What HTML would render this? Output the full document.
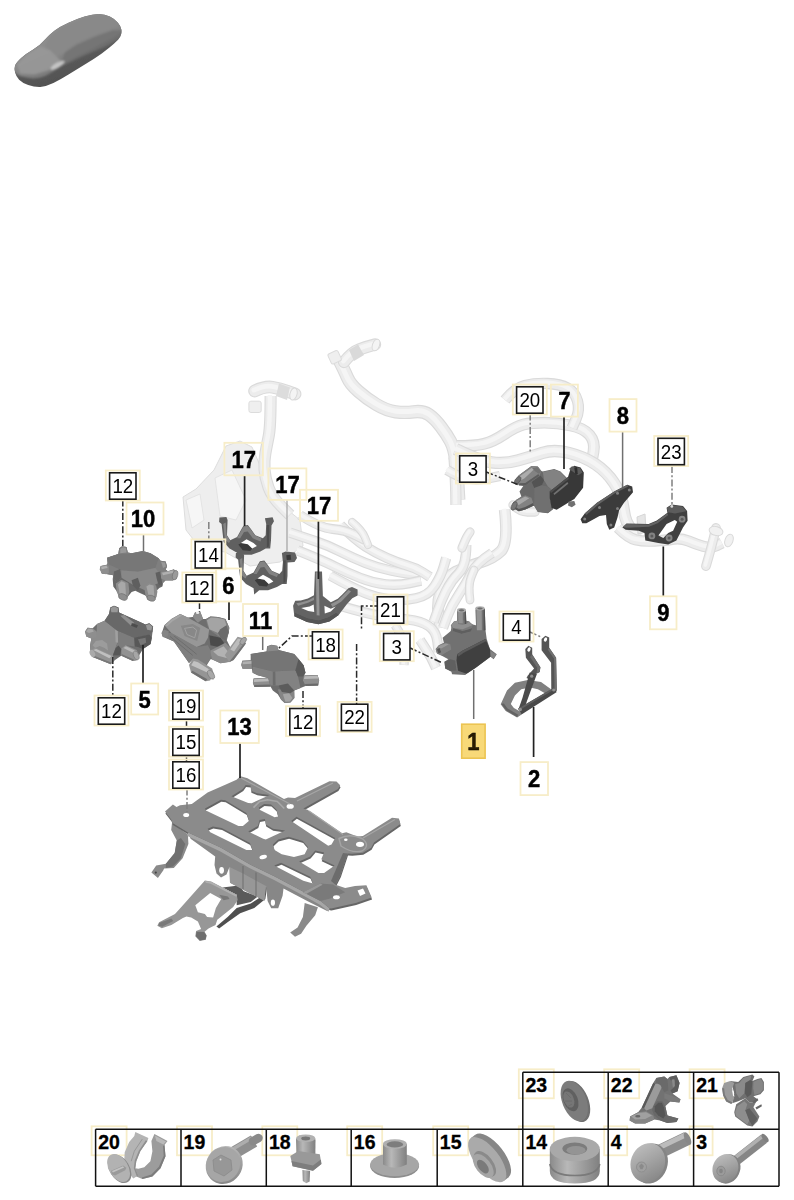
<!DOCTYPE html>
<html><head><meta charset="utf-8"><title>Parts diagram</title>
<style>
html,body{margin:0;padding:0;background:#fff;}
svg{display:block}
text{font-family:"Liberation Sans",sans-serif;fill:#000}
.b{font-weight:bold;font-size:24.5px;text-anchor:middle;stroke:#000;stroke-width:0.45px}
.r{font-size:19.5px;text-anchor:middle}
.t{font-weight:bold;font-size:19.3px;text-anchor:start;stroke:#000;stroke-width:0.3px}
.y{fill:none;stroke:#f7edc8;stroke-width:1.8}
.k{fill:#fff;stroke:#1a1a1a;stroke-width:1.6}
.ld{stroke:#222;stroke-width:1.7;fill:none}
.lg{stroke:#707070;stroke-width:1.5;fill:none}
.dd{stroke:#2a2a2a;stroke-width:1.5;fill:none;stroke-dasharray:7 2.2 2 2.2}
.dg{stroke:#808080;stroke-width:1.5;fill:none;stroke-dasharray:7 2.2 2 2.2}
</style></head>
<body>
<svg width="794" height="1200" viewBox="0 0 794 1200">
<!-- 00_defs.svg -->
<defs>
<filter id="soft" x="-5%" y="-5%" width="110%" height="110%"><feGaussianBlur stdDeviation="0.55"/></filter>
<filter id="softd" x="-5%" y="-5%" width="110%" height="110%"><feGaussianBlur stdDeviation="0.6"/><feComponentTransfer><feFuncR type="gamma" exponent="1.12"/><feFuncG type="gamma" exponent="1.12"/><feFuncB type="gamma" exponent="1.12"/></feComponentTransfer></filter>
<filter id="soft2" x="-5%" y="-5%" width="110%" height="110%"><feGaussianBlur stdDeviation="0.8"/></filter>
</defs>

<!-- 10_car.svg -->
<g id="car">
<defs><linearGradient id="cg" x1="0.1" y1="0.1" x2="0.75" y2="0.95"><stop offset="0" stop-color="#9a9a9a"/><stop offset="0.5" stop-color="#8a8a8a"/><stop offset="1" stop-color="#6a6a6a"/></linearGradient><linearGradient id="cg2" x1="0" y1="0" x2="0.4" y2="1"><stop offset="0" stop-color="#707070"/><stop offset="1" stop-color="#505050"/></linearGradient><filter id="cb" x="-10%" y="-10%" width="120%" height="120%"><feGaussianBlur stdDeviation="1.3"/></filter><clipPath id="cc"><path id="csil" d="M15.1 72.5Q14.1 68.5 15.1 65.5Q16.1 62.5 21.2 57.9Q26.2 53.4 33.2 49.4Q40.3 45.3 44.3 40.3Q48.4 35.3 54.4 30.7Q60.5 26.2 68.5 22.7Q76.6 19.1 84.6 16.6Q92.7 14.1 98.7 14.1Q104.8 14.1 109.8 16.6Q114.9 19.1 117.9 22.7Q120.9 26.2 121.4 29.7Q121.9 33.2 120.4 36.3Q118.9 39.3 113.9 43.8Q108.8 48.4 101.8 53.4Q94.7 58.4 85.6 64.0Q76.6 69.5 68.5 74.6Q60.5 79.6 53.4 83.1Q46.3 86.6 40.3 86.9Q34.3 87.1 28.2 85.0Q22.2 83.0 19.1 79.8Q16.1 76.6 15.1 72.5Z"/></clipPath></defs>
<g filter="url(#soft)"><path fill="url(#cg2)" d="M15.1 72.5Q14.1 68.5 15.1 65.5Q16.1 62.5 21.2 57.9Q26.2 53.4 33.2 49.4Q40.3 45.3 44.3 40.3Q48.4 35.3 54.4 30.7Q60.5 26.2 68.5 22.7Q76.6 19.1 84.6 16.6Q92.7 14.1 98.7 14.1Q104.8 14.1 109.8 16.6Q114.9 19.1 117.9 22.7Q120.9 26.2 121.4 29.7Q121.9 33.2 120.4 36.3Q118.9 39.3 113.9 43.8Q108.8 48.4 101.8 53.4Q94.7 58.4 85.6 64.0Q76.6 69.5 68.5 74.6Q60.5 79.6 53.4 83.1Q46.3 86.6 40.3 86.9Q34.3 87.1 28.2 85.0Q22.2 83.0 19.1 79.8Q16.1 76.6 15.1 72.5Z"/></g>
<g clip-path="url(#cc)"><g filter="url(#cb)">
<path fill="url(#cg)" d="M13.1 70.0Q12.1 67.5 13.6 64.0Q15.1 60.5 21.2 55.9Q27.2 51.4 33.8 47.4Q40.3 43.3 44.3 38.6Q48.4 33.9 54.4 29.2Q60.5 24.6 68.5 21.2Q76.6 17.7 84.6 15.1Q92.7 12.5 98.7 12.5Q104.8 12.5 110.8 15.1Q116.9 17.7 119.9 21.8Q122.9 25.8 123.1 29.0Q123.3 32.2 118.1 35.3Q112.8 38.3 106.8 41.5Q100.8 44.7 93.7 48.4Q86.6 52.0 78.6 56.0Q70.5 60.1 64.5 64.1Q58.4 68.1 51.4 72.5Q44.3 77.0 38.3 78.0Q32.2 79.0 26.2 77.6Q20.2 76.2 17.1 74.4Q14.1 72.5 13.1 70.0Z"/>
<path fill="#727272" opacity="0.85" d="M64.5 52.8L76.6 44.7L94.7 36.7L112.8 30.2L123.9 30.2L120.9 38.3L104.8 46.8L86.6 54.4L70.5 62.1L60.5 66.5Z"/>
<path fill="#898989" d="M45.3 44.7L50.4 35.3L62.5 26.2L78.6 19.3L92.7 14.5L104.8 14.5L114.9 19.3L118.9 26.2L108.8 30.2L90.7 35.9L74.6 43.3L64.5 52.8L54.4 58.4Z"/>
<path fill="#989898" opacity="0.9" d="M17.1 64.5L27.2 54.0L40.3 46.3L50.4 50.4L60.5 60.5L48.4 70.5L34.3 74.6L20.2 73.6Z"/>
<ellipse cx="57.6" cy="65.2" rx="8" ry="2.4" fill="#d6d6d6" opacity="0.8" transform="rotate(-30 57.6 65.2)"/>
</g></g>
</g>

<!-- 20_hoses.svg -->
<g id="hoses" filter="url(#soft)">
<path fill="#eeeeee" stroke="#dddddd" stroke-width="1" d="M183 497L196 489L214 470L226 446L240 441L252 447L262 470L272 497L300 520L303 546L280 562L250 566L225 552L200 548L186 530Z"/>
<path fill="#f6f6f6" stroke="#e0e0e0" stroke-width="0.8" d="M186 500L200 494L204 520L192 528ZM215 478L232 470L246 500L236 520L220 516Z"/>
<path d="M270.6 396.0Q270.6 426.7 268.7 436.1Q266.8 445.6 265.4 453.1Q264.0 460.7 264.5 469.4Q265.0 478.0 268.5 487.5Q272.0 497.0 281.0 506.0L290.0 515.0" fill="none" stroke="#dadada" stroke-width="12.1" stroke-linecap="butt" stroke-linejoin="round"/>
<path d="M270.6 396.0Q270.6 426.7 268.7 436.1Q266.8 445.6 265.4 453.1Q264.0 460.7 264.5 469.4Q265.0 478.0 268.5 487.5Q272.0 497.0 281.0 506.0L290.0 515.0" fill="none" stroke="#ececec" stroke-width="9.9" stroke-linecap="butt" stroke-linejoin="round"/>
<path d="M270.6 396.0Q270.6 426.7 268.7 436.1Q266.8 445.6 265.4 453.1Q264.0 460.7 264.5 469.4Q265.0 478.0 268.5 487.5Q272.0 497.0 281.0 506.0L290.0 515.0" fill="none" stroke="#f5f5f5" stroke-width="4.5" stroke-linecap="butt" stroke-linejoin="round" transform="translate(-0.7,-0.9)"/>
<path d="M254.6 391.0Q265.0 386.0 272.5 387.2Q280.0 388.5 287.5 391.2L295.0 394.0" fill="none" stroke="#dadada" stroke-width="12.8" stroke-linecap="round" stroke-linejoin="round"/>
<path d="M254.6 391.0Q265.0 386.0 272.5 387.2Q280.0 388.5 287.5 391.2L295.0 394.0" fill="none" stroke="#ececec" stroke-width="10.6" stroke-linecap="round" stroke-linejoin="round"/>
<path d="M254.6 391.0Q265.0 386.0 272.5 387.2Q280.0 388.5 287.5 391.2L295.0 394.0" fill="none" stroke="#f5f5f5" stroke-width="4.8" stroke-linecap="round" stroke-linejoin="round" transform="translate(-0.7,-0.9)"/>
<path d="M279 383.5L290 387.5L287 400L276 396Z" fill="#dcdcdc"/>
<rect x="248.9" y="401.2" width="12.3" height="11.3" rx="2" fill="#efefef" stroke="#dcdcdc"/>
<ellipse cx="293.5" cy="394" rx="3.5" ry="6.2" fill="#f4f4f4" stroke="#d8d8d8" transform="rotate(15 293.5 394)"/>
<path d="M338.0 358.0Q344.3 370.3 347.3 377.4Q350.3 384.4 358.4 391.4Q366.4 398.5 376.5 404.6Q386.6 410.6 395.6 411.8Q404.7 413.0 413.8 411.8Q422.8 410.6 428.9 414.6Q434.9 418.7 440.9 426.8Q447.0 434.8 450.5 441.4Q454.0 448.0 455.5 459.0Q457.0 470.0 457.9 485.0L458.8 500.0" fill="none" stroke="#dadada" stroke-width="13.3" stroke-linecap="butt" stroke-linejoin="round"/>
<path d="M338.0 358.0Q344.3 370.3 347.3 377.4Q350.3 384.4 358.4 391.4Q366.4 398.5 376.5 404.6Q386.6 410.6 395.6 411.8Q404.7 413.0 413.8 411.8Q422.8 410.6 428.9 414.6Q434.9 418.7 440.9 426.8Q447.0 434.8 450.5 441.4Q454.0 448.0 455.5 459.0Q457.0 470.0 457.9 485.0L458.8 500.0" fill="none" stroke="#ececec" stroke-width="11.1" stroke-linecap="butt" stroke-linejoin="round"/>
<path d="M338.0 358.0Q344.3 370.3 347.3 377.4Q350.3 384.4 358.4 391.4Q366.4 398.5 376.5 404.6Q386.6 410.6 395.6 411.8Q404.7 413.0 413.8 411.8Q422.8 410.6 428.9 414.6Q434.9 418.7 440.9 426.8Q447.0 434.8 450.5 441.4Q454.0 448.0 455.5 459.0Q457.0 470.0 457.9 485.0L458.8 500.0" fill="none" stroke="#f5f5f5" stroke-width="5.0" stroke-linecap="butt" stroke-linejoin="round" transform="translate(-0.7,-0.9)"/>
<path d="M344.0 362.0Q352.0 352.0 359.0 349.5Q366.0 347.0 370.5 345.8L375.0 344.5" fill="none" stroke="#dadada" stroke-width="12.3" stroke-linecap="round" stroke-linejoin="round"/>
<path d="M344.0 362.0Q352.0 352.0 359.0 349.5Q366.0 347.0 370.5 345.8L375.0 344.5" fill="none" stroke="#ececec" stroke-width="10.1" stroke-linecap="round" stroke-linejoin="round"/>
<path d="M344.0 362.0Q352.0 352.0 359.0 349.5Q366.0 347.0 370.5 345.8L375.0 344.5" fill="none" stroke="#f5f5f5" stroke-width="4.6" stroke-linecap="round" stroke-linejoin="round" transform="translate(-0.7,-0.9)"/>
<path d="M349 350L358 344.5L364 355L354 361Z" fill="#d9d9d9"/>
<rect x="329" y="352" width="11" height="11" rx="2" fill="#efefef" stroke="#dcdcdc" transform="rotate(-25 334 357)"/>
<ellipse cx="376" cy="345" rx="3.5" ry="6" fill="#f4f4f4" stroke="#d8d8d8" transform="rotate(20 376 345)"/>
<path d="M457.0 446.0Q475.0 446.0 484.1 443.8Q493.3 441.6 504.6 434.0Q516.0 426.4 523.5 424.5Q531.1 422.7 544.4 422.7Q557.6 422.7 570.8 425.5Q584.0 428.3 589.6 435.0Q595.3 441.6 593.5 451.8L591.6 462.0" fill="none" stroke="#dadada" stroke-width="11.8" stroke-linecap="butt" stroke-linejoin="round"/>
<path d="M457.0 446.0Q475.0 446.0 484.1 443.8Q493.3 441.6 504.6 434.0Q516.0 426.4 523.5 424.5Q531.1 422.7 544.4 422.7Q557.6 422.7 570.8 425.5Q584.0 428.3 589.6 435.0Q595.3 441.6 593.5 451.8L591.6 462.0" fill="none" stroke="#ececec" stroke-width="9.6" stroke-linecap="butt" stroke-linejoin="round"/>
<path d="M457.0 446.0Q475.0 446.0 484.1 443.8Q493.3 441.6 504.6 434.0Q516.0 426.4 523.5 424.5Q531.1 422.7 544.4 422.7Q557.6 422.7 570.8 425.5Q584.0 428.3 589.6 435.0Q595.3 441.6 593.5 451.8L591.6 462.0" fill="none" stroke="#f5f5f5" stroke-width="4.4" stroke-linecap="butt" stroke-linejoin="round" transform="translate(-0.7,-0.9)"/>
<path d="M505.0 400.0Q515.0 388.0 525.0 385.5Q535.0 383.0 547.5 383.5Q560.0 384.0 567.5 388.0Q575.0 392.0 577.5 401.0Q580.0 410.0 576.0 419.0L572.0 428.0" fill="none" stroke="#dadada" stroke-width="11.3" stroke-linecap="butt" stroke-linejoin="round"/>
<path d="M505.0 400.0Q515.0 388.0 525.0 385.5Q535.0 383.0 547.5 383.5Q560.0 384.0 567.5 388.0Q575.0 392.0 577.5 401.0Q580.0 410.0 576.0 419.0L572.0 428.0" fill="none" stroke="#ececec" stroke-width="9.1" stroke-linecap="butt" stroke-linejoin="round"/>
<path d="M505.0 400.0Q515.0 388.0 525.0 385.5Q535.0 383.0 547.5 383.5Q560.0 384.0 567.5 388.0Q575.0 392.0 577.5 401.0Q580.0 410.0 576.0 419.0L572.0 428.0" fill="none" stroke="#f5f5f5" stroke-width="4.2" stroke-linecap="butt" stroke-linejoin="round" transform="translate(-0.7,-0.9)"/>
<path d="M455.6 449.1Q478.2 460.4 491.4 462.3Q504.7 464.2 517.9 460.4Q531.1 456.7 542.5 452.9Q553.8 449.1 568.9 452.9Q584.0 456.7 595.4 464.2Q606.7 471.8 614.2 483.1Q621.8 494.4 623.7 509.6Q625.6 524.7 632.8 530.4L640.0 536.0" fill="none" stroke="#dadada" stroke-width="12.3" stroke-linecap="butt" stroke-linejoin="round"/>
<path d="M455.6 449.1Q478.2 460.4 491.4 462.3Q504.7 464.2 517.9 460.4Q531.1 456.7 542.5 452.9Q553.8 449.1 568.9 452.9Q584.0 456.7 595.4 464.2Q606.7 471.8 614.2 483.1Q621.8 494.4 623.7 509.6Q625.6 524.7 632.8 530.4L640.0 536.0" fill="none" stroke="#ececec" stroke-width="10.1" stroke-linecap="butt" stroke-linejoin="round"/>
<path d="M455.6 449.1Q478.2 460.4 491.4 462.3Q504.7 464.2 517.9 460.4Q531.1 456.7 542.5 452.9Q553.8 449.1 568.9 452.9Q584.0 456.7 595.4 464.2Q606.7 471.8 614.2 483.1Q621.8 494.4 623.7 509.6Q625.6 524.7 632.8 530.4L640.0 536.0" fill="none" stroke="#f5f5f5" stroke-width="4.6" stroke-linecap="butt" stroke-linejoin="round" transform="translate(-0.7,-0.9)"/>
<path d="M454.0 457.0Q455.6 480.0 455.8 492.5L456.0 505.0" fill="none" stroke="#dadada" stroke-width="11.3" stroke-linecap="butt" stroke-linejoin="round"/>
<path d="M454.0 457.0Q455.6 480.0 455.8 492.5L456.0 505.0" fill="none" stroke="#ececec" stroke-width="9.1" stroke-linecap="butt" stroke-linejoin="round"/>
<path d="M454.0 457.0Q455.6 480.0 455.8 492.5L456.0 505.0" fill="none" stroke="#f5f5f5" stroke-width="4.2" stroke-linecap="butt" stroke-linejoin="round" transform="translate(-0.7,-0.9)"/>
<path d="M504.7 509.6Q508.4 543.6 500.9 551.2Q493.3 558.7 480.1 562.5Q466.9 566.2 455.5 571.9Q444.2 577.6 440.4 590.8Q436.7 604.0 438.5 616.0L440.4 628.0" fill="none" stroke="#dadada" stroke-width="11.8" stroke-linecap="butt" stroke-linejoin="round"/>
<path d="M504.7 509.6Q508.4 543.6 500.9 551.2Q493.3 558.7 480.1 562.5Q466.9 566.2 455.5 571.9Q444.2 577.6 440.4 590.8Q436.7 604.0 438.5 616.0L440.4 628.0" fill="none" stroke="#ececec" stroke-width="9.6" stroke-linecap="butt" stroke-linejoin="round"/>
<path d="M504.7 509.6Q508.4 543.6 500.9 551.2Q493.3 558.7 480.1 562.5Q466.9 566.2 455.5 571.9Q444.2 577.6 440.4 590.8Q436.7 604.0 438.5 616.0L440.4 628.0" fill="none" stroke="#f5f5f5" stroke-width="4.4" stroke-linecap="butt" stroke-linejoin="round" transform="translate(-0.7,-0.9)"/>
<path d="M447.0 470.0Q460.0 478.0 470.0 479.0Q480.0 480.0 490.0 478.0L500.0 476.0" fill="none" stroke="#dadada" stroke-width="10.3" stroke-linecap="butt" stroke-linejoin="round"/>
<path d="M447.0 470.0Q460.0 478.0 470.0 479.0Q480.0 480.0 490.0 478.0L500.0 476.0" fill="none" stroke="#ececec" stroke-width="8.1" stroke-linecap="butt" stroke-linejoin="round"/>
<path d="M447.0 470.0Q460.0 478.0 470.0 479.0Q480.0 480.0 490.0 478.0L500.0 476.0" fill="none" stroke="#f5f5f5" stroke-width="3.8" stroke-linecap="butt" stroke-linejoin="round" transform="translate(-0.7,-0.9)"/>
<path d="M513.0 505.0Q520.0 512.0 527.5 512.0L535.0 512.0" fill="none" stroke="#dadada" stroke-width="9.3" stroke-linecap="round" stroke-linejoin="round"/>
<path d="M513.0 505.0Q520.0 512.0 527.5 512.0L535.0 512.0" fill="none" stroke="#ececec" stroke-width="7.1" stroke-linecap="round" stroke-linejoin="round"/>
<path d="M513.0 505.0Q520.0 512.0 527.5 512.0L535.0 512.0" fill="none" stroke="#f5f5f5" stroke-width="3.4" stroke-linecap="round" stroke-linejoin="round" transform="translate(-0.7,-0.9)"/>
<path d="M618.0 527.8Q628.0 537.9 635.5 539.8Q643.1 541.6 654.5 541.0Q665.8 540.4 673.3 539.1Q680.9 537.9 688.5 541.0Q696.0 544.2 703.5 546.4Q711.1 548.5 716.5 545.8L722.0 543.0" fill="none" stroke="#dadada" stroke-width="11.3" stroke-linecap="butt" stroke-linejoin="round"/>
<path d="M618.0 527.8Q628.0 537.9 635.5 539.8Q643.1 541.6 654.5 541.0Q665.8 540.4 673.3 539.1Q680.9 537.9 688.5 541.0Q696.0 544.2 703.5 546.4Q711.1 548.5 716.5 545.8L722.0 543.0" fill="none" stroke="#ececec" stroke-width="9.1" stroke-linecap="butt" stroke-linejoin="round"/>
<path d="M618.0 527.8Q628.0 537.9 635.5 539.8Q643.1 541.6 654.5 541.0Q665.8 540.4 673.3 539.1Q680.9 537.9 688.5 541.0Q696.0 544.2 703.5 546.4Q711.1 548.5 716.5 545.8L722.0 543.0" fill="none" stroke="#f5f5f5" stroke-width="4.2" stroke-linecap="butt" stroke-linejoin="round" transform="translate(-0.7,-0.9)"/>
<path d="M716.0 528.0Q712.0 545.0 709.0 555.5L706.0 566.0" fill="none" stroke="#dadada" stroke-width="9.8" stroke-linecap="round" stroke-linejoin="round"/>
<path d="M716.0 528.0Q712.0 545.0 709.0 555.5L706.0 566.0" fill="none" stroke="#ececec" stroke-width="7.6" stroke-linecap="round" stroke-linejoin="round"/>
<path d="M716.0 528.0Q712.0 545.0 709.0 555.5L706.0 566.0" fill="none" stroke="#f5f5f5" stroke-width="3.6" stroke-linecap="round" stroke-linejoin="round" transform="translate(-0.7,-0.9)"/>
<ellipse cx="716" cy="531" rx="7" ry="4.5" fill="#f1f1f1" stroke="#d9d9d9" transform="rotate(15 716 531)"/>
<ellipse cx="729" cy="540.5" rx="4" ry="6.5" fill="#f1f1f1" stroke="#d9d9d9" transform="rotate(20 729 540.5)"/>
<path fill="#e6e6e6" stroke="#d6d6d6" d="M637 517L645 514L646 532L638 534Z"/>
<path d="M290.0 532.7Q305.0 537.8 316.4 541.5Q327.8 545.3 340.4 551.6Q353.0 557.9 365.5 563.0Q378.0 568.0 390.7 570.5Q403.4 573.0 412.2 574.3L421.0 575.6" fill="none" stroke="#dadada" stroke-width="10.3" stroke-linecap="butt" stroke-linejoin="round"/>
<path d="M290.0 532.7Q305.0 537.8 316.4 541.5Q327.8 545.3 340.4 551.6Q353.0 557.9 365.5 563.0Q378.0 568.0 390.7 570.5Q403.4 573.0 412.2 574.3L421.0 575.6" fill="none" stroke="#ececec" stroke-width="8.1" stroke-linecap="butt" stroke-linejoin="round"/>
<path d="M290.0 532.7Q305.0 537.8 316.4 541.5Q327.8 545.3 340.4 551.6Q353.0 557.9 365.5 563.0Q378.0 568.0 390.7 570.5Q403.4 573.0 412.2 574.3L421.0 575.6" fill="none" stroke="#f5f5f5" stroke-width="3.8" stroke-linecap="butt" stroke-linejoin="round" transform="translate(-0.7,-0.9)"/>
<path d="M340.4 525.2Q355.5 540.3 365.6 546.6Q375.6 552.9 387.0 558.0Q398.3 563.0 407.1 565.5Q416.0 568.0 423.0 572.5L430.0 577.0" fill="none" stroke="#dadada" stroke-width="10.3" stroke-linecap="butt" stroke-linejoin="round"/>
<path d="M340.4 525.2Q355.5 540.3 365.6 546.6Q375.6 552.9 387.0 558.0Q398.3 563.0 407.1 565.5Q416.0 568.0 423.0 572.5L430.0 577.0" fill="none" stroke="#ececec" stroke-width="8.1" stroke-linecap="butt" stroke-linejoin="round"/>
<path d="M340.4 525.2Q355.5 540.3 365.6 546.6Q375.6 552.9 387.0 558.0Q398.3 563.0 407.1 565.5Q416.0 568.0 423.0 572.5L430.0 577.0" fill="none" stroke="#f5f5f5" stroke-width="3.8" stroke-linecap="butt" stroke-linejoin="round" transform="translate(-0.7,-0.9)"/>
<path d="M297.6 550.4Q322.7 560.5 335.4 566.8Q348.0 573.0 360.5 578.0Q373.0 583.0 385.6 584.3Q398.3 585.6 409.6 583.1L421.0 580.6" fill="none" stroke="#dadada" stroke-width="10.3" stroke-linecap="butt" stroke-linejoin="round"/>
<path d="M297.6 550.4Q322.7 560.5 335.4 566.8Q348.0 573.0 360.5 578.0Q373.0 583.0 385.6 584.3Q398.3 585.6 409.6 583.1L421.0 580.6" fill="none" stroke="#ececec" stroke-width="8.1" stroke-linecap="butt" stroke-linejoin="round"/>
<path d="M297.6 550.4Q322.7 560.5 335.4 566.8Q348.0 573.0 360.5 578.0Q373.0 583.0 385.6 584.3Q398.3 585.6 409.6 583.1L421.0 580.6" fill="none" stroke="#f5f5f5" stroke-width="3.8" stroke-linecap="butt" stroke-linejoin="round" transform="translate(-0.7,-0.9)"/>
<path d="M330.3 575.6Q353.0 588.2 365.6 593.2Q378.2 598.2 390.8 599.5Q403.4 600.8 415.9 598.2Q428.5 595.7 434.8 585.7Q441.1 575.6 443.6 566.8L446.2 558.0" fill="none" stroke="#dadada" stroke-width="10.3" stroke-linecap="butt" stroke-linejoin="round"/>
<path d="M330.3 575.6Q353.0 588.2 365.6 593.2Q378.2 598.2 390.8 599.5Q403.4 600.8 415.9 598.2Q428.5 595.7 434.8 585.7Q441.1 575.6 443.6 566.8L446.2 558.0" fill="none" stroke="#ececec" stroke-width="8.1" stroke-linecap="butt" stroke-linejoin="round"/>
<path d="M330.3 575.6Q353.0 588.2 365.6 593.2Q378.2 598.2 390.8 599.5Q403.4 600.8 415.9 598.2Q428.5 595.7 434.8 585.7Q441.1 575.6 443.6 566.8L446.2 558.0" fill="none" stroke="#f5f5f5" stroke-width="3.8" stroke-linecap="butt" stroke-linejoin="round" transform="translate(-0.7,-0.9)"/>
<path d="M340.4 605.8Q365.6 613.4 380.7 615.9Q395.8 618.4 408.4 619.6Q421.0 620.9 428.6 626.0Q436.1 631.0 437.4 641.5L438.6 652.0" fill="none" stroke="#dadada" stroke-width="10.3" stroke-linecap="butt" stroke-linejoin="round"/>
<path d="M340.4 605.8Q365.6 613.4 380.7 615.9Q395.8 618.4 408.4 619.6Q421.0 620.9 428.6 626.0Q436.1 631.0 437.4 641.5L438.6 652.0" fill="none" stroke="#ececec" stroke-width="8.1" stroke-linecap="butt" stroke-linejoin="round"/>
<path d="M340.4 605.8Q365.6 613.4 380.7 615.9Q395.8 618.4 408.4 619.6Q421.0 620.9 428.6 626.0Q436.1 631.0 437.4 641.5L438.6 652.0" fill="none" stroke="#f5f5f5" stroke-width="3.8" stroke-linecap="butt" stroke-linejoin="round" transform="translate(-0.7,-0.9)"/>
<path d="M466.3 545.0Q466.3 565.5 458.8 573.0Q451.2 580.6 446.1 590.7Q441.1 600.8 437.4 611.4L433.6 622.0" fill="none" stroke="#dadada" stroke-width="10.3" stroke-linecap="butt" stroke-linejoin="round"/>
<path d="M466.3 545.0Q466.3 565.5 458.8 573.0Q451.2 580.6 446.1 590.7Q441.1 600.8 437.4 611.4L433.6 622.0" fill="none" stroke="#ececec" stroke-width="8.1" stroke-linecap="butt" stroke-linejoin="round"/>
<path d="M466.3 545.0Q466.3 565.5 458.8 573.0Q451.2 580.6 446.1 590.7Q441.1 600.8 437.4 611.4L433.6 622.0" fill="none" stroke="#f5f5f5" stroke-width="3.8" stroke-linecap="butt" stroke-linejoin="round" transform="translate(-0.7,-0.9)"/>
<path d="M492.0 553.0Q476.4 563.0 471.4 573.0Q466.3 583.1 458.8 594.5Q451.2 605.8 447.1 616.9L443.0 628.0" fill="none" stroke="#dadada" stroke-width="10.3" stroke-linecap="butt" stroke-linejoin="round"/>
<path d="M492.0 553.0Q476.4 563.0 471.4 573.0Q466.3 583.1 458.8 594.5Q451.2 605.8 447.1 616.9L443.0 628.0" fill="none" stroke="#ececec" stroke-width="8.1" stroke-linecap="butt" stroke-linejoin="round"/>
<path d="M492.0 553.0Q476.4 563.0 471.4 573.0Q466.3 583.1 458.8 594.5Q451.2 605.8 447.1 616.9L443.0 628.0" fill="none" stroke="#f5f5f5" stroke-width="3.8" stroke-linecap="butt" stroke-linejoin="round" transform="translate(-0.7,-0.9)"/>
<path d="M300.0 515.0Q320.0 528.0 332.5 529.0Q345.0 530.0 355.0 535.0L365.0 540.0" fill="none" stroke="#dadada" stroke-width="9.8" stroke-linecap="butt" stroke-linejoin="round"/>
<path d="M300.0 515.0Q320.0 528.0 332.5 529.0Q345.0 530.0 355.0 535.0L365.0 540.0" fill="none" stroke="#ececec" stroke-width="7.6" stroke-linecap="butt" stroke-linejoin="round"/>
<path d="M300.0 515.0Q320.0 528.0 332.5 529.0Q345.0 530.0 355.0 535.0L365.0 540.0" fill="none" stroke="#f5f5f5" stroke-width="3.6" stroke-linecap="butt" stroke-linejoin="round" transform="translate(-0.7,-0.9)"/>
<path d="M352.0 522.0Q362.0 530.0 365.0 537.5L368.0 545.0" fill="none" stroke="#dadada" stroke-width="8.3" stroke-linecap="round" stroke-linejoin="round"/>
<path d="M352.0 522.0Q362.0 530.0 365.0 537.5L368.0 545.0" fill="none" stroke="#ececec" stroke-width="6.1" stroke-linecap="round" stroke-linejoin="round"/>
<path d="M352.0 522.0Q362.0 530.0 365.0 537.5L368.0 545.0" fill="none" stroke="#f5f5f5" stroke-width="2.9" stroke-linecap="round" stroke-linejoin="round" transform="translate(-0.7,-0.9)"/>
<path d="M462.0 548.0Q466.0 538.0 468.0 535.0L470.0 532.0" fill="none" stroke="#dadada" stroke-width="9.3" stroke-linecap="round" stroke-linejoin="round"/>
<path d="M462.0 548.0Q466.0 538.0 468.0 535.0L470.0 532.0" fill="none" stroke="#ececec" stroke-width="7.1" stroke-linecap="round" stroke-linejoin="round"/>
<path d="M462.0 548.0Q466.0 538.0 468.0 535.0L470.0 532.0" fill="none" stroke="#f5f5f5" stroke-width="3.4" stroke-linecap="round" stroke-linejoin="round" transform="translate(-0.7,-0.9)"/>
<path d="M420.0 640.0Q430.0 655.0 433.0 661.5L436.0 668.0" fill="none" stroke="#dadada" stroke-width="10.3" stroke-linecap="butt" stroke-linejoin="round"/>
<path d="M420.0 640.0Q430.0 655.0 433.0 661.5L436.0 668.0" fill="none" stroke="#ececec" stroke-width="8.1" stroke-linecap="butt" stroke-linejoin="round"/>
<path d="M420.0 640.0Q430.0 655.0 433.0 661.5L436.0 668.0" fill="none" stroke="#f5f5f5" stroke-width="3.8" stroke-linecap="butt" stroke-linejoin="round" transform="translate(-0.7,-0.9)"/>
<path d="M395.0 625.0Q405.0 640.0 404.5 652.5L404.0 665.0" fill="none" stroke="#dadada" stroke-width="9.3" stroke-linecap="butt" stroke-linejoin="round"/>
<path d="M395.0 625.0Q405.0 640.0 404.5 652.5L404.0 665.0" fill="none" stroke="#ececec" stroke-width="7.1" stroke-linecap="butt" stroke-linejoin="round"/>
<path d="M395.0 625.0Q405.0 640.0 404.5 652.5L404.0 665.0" fill="none" stroke="#f5f5f5" stroke-width="3.4" stroke-linecap="butt" stroke-linejoin="round" transform="translate(-0.7,-0.9)"/>
<path d="M470.0 600.0Q468.0 585.0 471.0 577.5L474.0 570.0" fill="none" stroke="#dadada" stroke-width="8.8" stroke-linecap="round" stroke-linejoin="round"/>
<path d="M470.0 600.0Q468.0 585.0 471.0 577.5L474.0 570.0" fill="none" stroke="#ececec" stroke-width="6.6" stroke-linecap="round" stroke-linejoin="round"/>
<path d="M470.0 600.0Q468.0 585.0 471.0 577.5L474.0 570.0" fill="none" stroke="#f5f5f5" stroke-width="3.1" stroke-linecap="round" stroke-linejoin="round" transform="translate(-0.7,-0.9)"/>
</g>

<!-- 30_valves.svg -->
<g id="valves" filter="url(#soft)">
<path fill="#686868" d="M107.0 557.7L118.3 553.9L119.2 548.2L122.1 546.3L126.5 547.0L127.8 552.6L131.6 553.3L142.9 551.1L150.5 553.3L158.6 558.3L160.5 560.8L165.6 561.4L167.1 566.5L165.6 569.6L168.1 571.5L173.8 569.6L176.3 572.8L175.6 577.8L173.1 580.3L165.6 580.3L163.0 582.9L162.4 586.6L159.3 587.9L156.8 590.4L156.1 596.7L153.0 600.5L148.6 599.9L145.4 595.5L140.4 593.2L135.3 590.7L131.6 591.9L127.8 596.7L124.0 599.2L119.6 597.3L117.1 591.7L113.3 586.6L112.7 579.1L113.3 575.3L106.4 574.0L102.0 573.4L100.1 569.0L101.3 565.9L106.4 565.2L107.6 563.3Z"/>
<path fill="#7f7f7f" d="M107.0 557.7L118.3 553.9L119.2 548.2L122.1 546.3L126.5 547.0L127.8 552.6L131.6 553.3L142.9 551.1L150.5 553.3L158.6 558.3L160.5 560.8L165.6 561.4L167.1 566.5L165.6 569.6L168.1 571.5L173.8 569.6L176.3 572.8L175.6 577.8L173.1 580.3L165.6 580.3L163.0 582.9L160.5 585.4L158.0 584.7L155.5 577.8L145.4 582.9L140.4 587.9L132.8 584.7L127.8 579.1L121.5 577.8L117.1 581.6L113.3 579.1L113.3 575.3L106.4 574.0L102.0 573.4L100.1 569.0L101.3 565.9L106.4 565.2L107.6 563.3Z"/>
<path fill="#777" d="M107.6 557.7L118.3 554.1L131.6 553.5L142.9 551.4L150.5 553.5L158.6 558.6L155.5 567.7L137.9 571.5L121.5 570.3L108.9 564.6Z"/>
<path fill="#888" d="M121.5 570.5L137.9 571.8L155.5 568.0L158.6 572.8L158.0 582.9L145.4 590.4L132.8 584.7L121.5 577.8Z"/>
<path fill="#5e5e5e" d="M131.6 580.3L137.9 577.8L140.4 585.4L137.9 590.4L132.8 585.4Z"/>
<path fill="#5e5e5e" d="M155.5 572.8L160.5 571.5L162.4 585.4L158.6 585.4L156.8 579.1Z"/>
<path fill="#666" d="M113.9 571.5L120.2 569.0L121.5 577.8L117.1 581.6L113.3 579.1Z"/>
<path fill="#9a9a9a" d="M165.6 572.8L173.1 570.9L175.0 572.8L166.8 575.3Z"/>
<path fill="#959595" d="M101.3 567.1L106.4 566.2L107.0 568.4L102.0 569.6Z"/>
<path fill="#989898" d="M118.3 582.9L121.5 580.3L127.8 590.4L125.9 596.7L122.7 597.3Z"/>
<path fill="#989898" d="M147.3 585.4L150.5 582.9L155.5 590.4L154.2 597.3L151.1 598.6Z"/>
<path fill="#9a9a9a" d="M120.2 548.9L123.0 547.3L125.9 548.0L126.5 552.6L120.2 553.3Z"/>
<path fill="#999" d="M161.2 562.1L164.9 562.5L165.9 566.5L163.0 568.0Z"/>
<path fill="#8c8c8c" d="M115.8 583.5L121.5 579.7L128.4 582.9L129.3 591.7L127.8 597.0L123.8 599.5L119.2 597.5L116.7 591.7Z"/>
<path fill="#a8a8a8" d="M118.0 584.4L121.5 581.3L125.3 583.1L125.9 594.2L123.0 598.0L120.2 596.7Z"/>
<ellipse cx="123.0" cy="597.0" rx="4.6" ry="3" fill="#8e8e8e" stroke="#707070" stroke-width="0.6" transform="rotate(20 123.0 597.0)"/>
<path fill="#8a8a8a" d="M144.2 586.6L149.2 582.6L156.1 585.4L157.4 591.7L156.5 597.0L153.0 600.7L148.2 600.0L145.4 594.9Z"/>
<path fill="#a6a6a6" d="M146.4 586.6L149.4 584.4L153.6 585.6L154.2 595.5L152.0 599.0L149.2 598.2Z"/>
<ellipse cx="151.2" cy="598.2" rx="4.4" ry="2.9" fill="#8e8e8e" stroke="#707070" stroke-width="0.6" transform="rotate(15 151.2 598.2)"/>
<path fill="#8e8e8e" d="M160.5 572.2L168.1 570.9L174.1 569.3L176.6 572.8L175.9 578.1L173.1 580.6L165.6 580.6L161.2 578.5Z"/>
<path fill="#b0b0b0" d="M162.0 572.8L173.1 570.5L175.1 572.5L163.0 575.3Z"/>
<ellipse cx="175.1" cy="575.1" rx="2.6" ry="4.8" fill="#9a9a9a" stroke="#707070" stroke-width="0.6" transform="rotate(12 175.1 575.1)"/>
<path fill="#8e8e8e" d="M100.3 565.9L106.4 564.7L108.9 566.5L108.9 572.8L106.1 574.3L101.6 573.5L99.8 569.3Z"/>
<path fill="#b0b0b0" d="M101.1 566.7L106.6 565.7L107.6 568.0L101.6 569.3Z"/>
<path fill="#6e6e6e" d="M85.1 631.5L87.6 627.7L92.6 628.3L97.0 623.9L104.6 620.8L109.0 613.9L110.3 607.6L114.0 605.7L118.5 607.6L119.1 612.6L145.5 624.6L149.3 623.3L153.1 626.4L152.5 632.1L151.8 637.8L150.6 644.1L143.0 648.9L139.0 655.4L137.0 659.9L132.9 660.7L121.6 655.4L114.3 660.5L110.5 664.0L92.6 656.7L90.4 653.5L90.1 645.3L91.4 638.4L86.3 636.5Z"/>
<path fill="#8c8c8c" d="M97.0 623.9L104.6 620.8L116.6 630.2L117.2 643.5L112.8 655.4L95.2 647.9L91.4 650.4L90.1 645.3L91.4 638.4L93.9 636.5L96.7 631.5Z"/>
<path fill="#7b7b7b" d="M116.6 630.2L134.2 637.8L134.8 646.6L125.4 645.3L121.6 648.5L120.3 655.4L112.8 655.4L117.2 643.5Z"/>
<path fill="#a0a0a0" d="M115.1 629.6L117.8 630.9L118.1 642.8L115.6 642.2Z"/>
<path fill="#686868" d="M104.6 620.8L109.0 613.9L110.3 607.6L114.0 605.7L118.5 607.6L119.1 612.6L145.5 624.6L149.3 623.3L153.1 626.4L152.5 632.1L149.3 634.6L134.2 637.8L116.6 630.2Z"/>
<path fill="#8f8f8f" d="M120.3 615.7L124.1 614.9L134.2 622.7L131.0 625.8Z"/>
<path fill="#4e4e4e" d="M131.9 622.9L138.0 625.2L136.7 628.0L131.0 625.8Z"/>
<path fill="#989898" d="M110.6 608.2L114.0 606.3L118.1 608.2L117.6 612.3L111.3 612.3Z"/>
<path fill="#989898" d="M145.9 625.2L149.3 623.9L152.3 626.7L151.3 630.5L147.2 629.7Z"/>
<path fill="#585858" d="M134.2 637.8L149.3 634.6L151.8 637.8L150.6 644.1L143.0 648.9L138.0 646.9L134.8 646.6Z"/>
<path fill="#777" d="M138.0 639.3L145.5 637.8L146.2 642.8L140.5 645.3Z"/>
<path fill="#8e8e8e" d="M85.1 631.5L87.6 627.7L92.6 628.3L96.7 631.5L96.4 637.5L91.4 638.4L86.3 636.5Z"/>
<path fill="#a8a8a8" d="M86.1 631.5L88.2 628.7L92.4 629.2L93.9 631.5L88.9 633.0Z"/>
<path fill="#9c9c9c" d="M92.6 645.3L95.8 640.9L102.1 640.1L107.1 643.5L108.0 650.4L104.6 647.9L99.6 646.0L95.2 647.9Z"/>
<path fill="#949494" d="M91.1 650.1L95.2 647.6L112.8 655.2L114.5 660.5L110.8 664.2L92.6 656.9L90.1 653.5Z"/>
<path fill="#c0c0c0" d="M93.4 650.1L96.2 649.1L111.5 656.0L109.3 658.2Z"/>
<path fill="#787878" d="M92.6 656.9L110.8 664.2L111.8 662.7L93.4 655.4Z"/>
<ellipse cx="92.4" cy="653.5" rx="2.6" ry="3.8" fill="#aaa" transform="rotate(-25 92.4 653.5)"/>
<path fill="#929292" d="M121.3 648.5L125.4 645.1L136.7 650.1L139.2 655.4L137.2 660.2L132.9 661.0L121.3 655.7Z"/>
<path fill="#b8b8b8" d="M123.5 647.9L126.0 646.3L135.5 650.8L133.4 652.9Z"/>
<path fill="#757575" d="M121.3 655.7L132.9 661.0L133.9 659.4L122.1 654.2Z"/>
<ellipse cx="136.2" cy="655.4" rx="2.6" ry="4.6" fill="#a6a6a6" stroke="#7a7a7a" stroke-width="0.6" transform="rotate(-20 136.2 655.4)"/>
<path fill="#575757" d="M112.8 655.4L120.3 655.4L121.3 648.9L118.5 645.6L115.6 647.9Z"/>
<path fill="#6e6e6e" d="M161.9 632.7L164.4 625.2L171.4 618.9L180.2 613.9L187.7 617.6L192.8 617.0L195.3 612.0L200.3 612.0L203.1 619.1L206.0 618.9L210.4 616.4L218.0 617.0L225.5 618.9L229.3 627.7L228.7 632.7L226.8 640.3L230.6 647.9L225.5 655.4L229.3 661.7L220.5 663.2L211.7 659.2L210.4 659.2L206.6 665.5L192.8 659.2L189.0 663.0L173.9 641.6L162.6 636.5Z"/>
<path fill="#7e7e7e" d="M161.9 632.7L171.4 633.0L196.6 646.9L207.9 645.3L211.7 652.9L210.4 659.2L205.4 665.5L192.8 659.2L189.0 663.0L173.9 641.6L162.6 636.5Z"/>
<path stroke="#686868" stroke-width="0.8" fill="none" d="M170.1 636.5L192.8 655.4M173.9 635.9L196.6 654.2"/>
<path fill="#979797" d="M164.4 625.2L171.4 618.9L180.2 613.9L187.7 617.6L209.2 629.6L207.9 637.8L204.7 643.5L196.6 646.9L171.4 633.0Z"/>
<path fill="#888" d="M180.8 625.8L192.8 623.9L200.3 628.0L197.2 640.9L184.6 635.9Z"/>
<path stroke="#a8a8a8" stroke-width="0.8" fill="none" d="M184.6 628.3L192.8 627.1L196.6 630.2L194.7 637.8L187.1 634.6Z"/>
<path fill="#a6a6a6" d="M165.3 625.2L171.6 619.6L180.2 614.6L182.1 615.6L172.6 621.2L167.0 626.4Z"/>
<path fill="#8c8c8c" d="M192.8 617.0L195.1 612.1L200.3 612.0L203.1 619.1L197.8 622.7Z"/>
<ellipse cx="197.6" cy="612.8" rx="1.7" ry="1.2" fill="#eee"/>
<path fill="#808080" d="M206.0 618.9L210.4 616.4L218.0 617.0L225.5 618.9L229.3 627.7L228.7 632.7L225.5 641.6L220.5 637.8L209.2 629.6L207.3 625.2Z"/>
<path fill="#a4a4a4" d="M206.9 620.2L211.0 617.6L218.0 617.9L224.5 619.6L226.5 625.2L220.5 629.2L218.0 633.0L209.4 629.2Z"/>
<path fill="#6a6a6a" d="M218.0 633.0L220.5 629.2L226.5 625.2L228.7 632.1L225.5 641.3L220.7 637.8Z"/>
<path fill="#4c4c4c" d="M209.2 635.3L220.5 637.8L224.0 642.8L223.0 647.9L210.4 645.3Z"/>
<path fill="#8c8c8c" d="M210.4 650.4L225.5 642.8L230.6 647.9L233.1 659.2L229.3 662.0L220.5 663.2L211.7 659.2Z"/>
<path fill="#b2b2b2" d="M213.2 651.6L223.6 646.3L229.3 652.9L227.4 658.2L218.0 655.7Z"/>
<path fill="#979797" d="M224.9 654.9L230.1 647.1L237.6 636.8L243.4 638.3L245.9 643.5L241.1 649.9L233.6 659.9L229.3 662.2Z"/>
<path fill="#bcbcbc" d="M230.3 649.4L237.9 638.5L242.2 639.8L234.1 651.6Z"/>
<path fill="#727272" d="M229.3 662.0L233.6 659.9L245.9 643.5L244.7 642.6L231.3 659.2Z"/>
<ellipse cx="243.2" cy="640.9" rx="2.5" ry="4.2" fill="#a5a5a5" stroke="#777" stroke-width="0.6" transform="rotate(38 243.2 640.9)"/>
<path fill="#959595" d="M189.0 664.7L193.0 658.4L198.0 659.4L212.1 668.5L213.9 674.0L210.1 680.6L205.6 681.3L191.0 672.5Z"/>
<path fill="#c2c2c2" d="M191.2 665.2L193.8 660.9L198.0 662.2L210.9 670.5L208.9 673.2Z"/>
<path fill="#707070" d="M191.0 672.5L205.6 681.3L207.4 679.3L192.5 670.7Z"/>
<ellipse cx="211.0" cy="674.6" rx="2.8" ry="5" fill="#a8a8a8" stroke="#777" stroke-width="0.6" transform="rotate(-30 211.0 674.6)"/>
<path fill="#858585" d="M161.3 633.0L164.4 629.6L168.9 631.5L167.6 636.5L163.2 637.2Z"/>
<path fill="#6c6c6c" d="M250.7 653.9L266.5 651.4L267.1 646.3L271.5 644.8L277.2 645.7L278.5 650.1L294.2 653.9L298.6 658.9L303.6 665.2L305.5 672.8L304.0 675.6L317.5 675.1L319.1 680.3L318.1 685.6L305.5 685.9L300.5 687.9L294.2 690.4L294.4 698.0L290.4 702.5L284.7 703.0L281.0 699.5L277.8 694.2L272.8 690.4L270.5 686.4L254.5 687.1L252.9 682.9L253.6 678.5L267.1 677.8L257.7 675.3L252.6 672.8L251.9 668.8L242.6 668.8L241.3 665.0L242.3 660.8L250.7 660.2Z"/>
<path fill="#747474" d="M250.7 653.9L266.5 651.4L278.5 650.1L294.2 653.9L298.6 658.9L295.5 670.3L272.8 671.5L252.6 666.5Z"/>
<path fill="#828282" d="M252.6 666.5L272.8 671.5L295.5 670.3L298.0 676.6L300.5 687.9L294.2 690.4L277.8 685.4L270.5 685.4L268.0 677.8L257.7 675.3L252.6 672.8Z"/>
<path fill="#5a5a5a" d="M295.5 670.3L298.6 658.9L303.6 665.2L305.5 672.8L303.0 676.6L298.0 676.6Z"/>
<path fill="#6c6c6c" d="M272.8 671.8L275.3 671.5L275.6 685.4L272.8 685.4Z"/>
<path fill="#8a8a8a" d="M267.1 651.4L267.5 646.6L271.5 645.1L277.2 646.0L278.5 650.4Z"/>
<path fill="#8c8c8c" d="M242.3 660.8L251.4 660.2L251.9 668.8L242.6 668.8L241.3 665.0Z"/>
<path fill="#b0b0b0" d="M242.8 661.7L251.4 660.9L251.5 663.7L242.6 664.2Z"/>
<path fill="#8e8e8e" d="M253.6 678.5L268.0 677.8L270.5 686.4L254.5 687.1L252.9 682.9Z"/>
<path fill="#bababa" d="M254.1 679.3L268.0 678.6L268.8 681.3L253.9 682.1Z"/>
<path fill="#6c6c6c" d="M254.1 685.1L270.0 684.4L270.5 686.4L254.5 687.1Z"/>
<path fill="#8e8e8e" d="M304.0 675.6L317.5 675.1L319.1 680.3L318.1 685.6L305.5 685.9L303.0 680.3Z"/>
<path fill="#b8b8b8" d="M304.5 676.3L317.5 675.8L318.4 678.6L304.0 679.1Z"/>
<path fill="#6a6a6a" d="M305.0 683.9L318.1 683.6L318.1 685.6L305.5 685.9Z"/>
<path fill="#858585" d="M277.8 689.2L294.2 690.4L294.4 698.0L290.4 702.5L284.7 703.0L281.0 699.5Z"/>
<path fill="#a5a5a5" d="M282.9 694.2L289.2 693.2L292.4 698.0L289.9 701.5L285.4 701.8Z"/>
<path fill="#5c5c5c" d="M278.5 685.4L287.9 683.5L294.2 690.4L290.4 693.2L281.9 691.9Z"/>
</g>

<!-- 31_clamps.svg -->
<g id="clamps" filter="url(#softd)">
<path fill="#6c6c6c" d="M235.9 553.1L242.9 552.4L244.1 555.6L243.5 570.7L246.6 575.7L253.6 572.6L258.0 564.4L259.9 561.3L264.3 560.6L267.4 564.4L271.8 570.7L279.4 573.9L282.2 570.7L282.9 561.9L281.9 553.1L285.7 551.6L295.1 552.4L297.0 558.1L294.5 561.9L287.6 562.5L287.5 575.7L286.7 583.9L282.2 583.9L276.9 587.1L268.1 590.2L259.2 590.2L254.2 594.6L253.6 588.3L246.0 583.9L240.1 577.6L238.1 559.6L235.6 557.5Z"/>
<path fill="#8e8e8e" d="M258.6 564.4L260.5 561.9L264.0 561.4L266.8 564.7L271.2 570.7L278.1 574.2L276.9 577.0L269.3 573.9L264.3 566.9L260.5 567.6L256.7 573.9L253.6 573.9Z"/>
<path fill="#474747" d="M254.8 580.2L258.0 578.5L264.3 579.8L268.7 583.9L266.8 586.4L259.2 585.8Z"/>
<path fill="#fff" d="M257.4 578.5L263.0 574.7L269.9 578.5L273.4 581.4L268.7 583.9L264.3 579.8Z"/>
<path fill="#8e8e8e" d="M239.7 559.4L242.2 558.1L243.1 570.7L246.6 576.4L245.4 578.5L241.4 575.1Z"/>
<path fill="#5a5a5a" d="M283.4 560.6L285.7 560.6L285.4 582.0L283.4 582.7Z"/>
<path fill="#444" d="M286.2 555.3L290.6 554.7L291.2 559.7L286.8 560.1Z"/>
<path fill="#6c6c6c" d="M219.4 517.6L226.4 516.9L227.6 520.1L227.0 535.2L230.2 540.2L237.1 537.1L241.5 528.9L243.4 525.7L247.8 525.1L250.9 528.9L255.3 535.2L262.9 538.3L265.7 535.2L266.2 523.9L264.9 518.2L272.6 517.3L274.0 521.3L271.5 525.4L271.0 540.2L270.2 548.4L265.7 548.4L260.4 551.6L251.6 554.7L242.7 554.7L237.7 559.1L237.1 552.8L229.5 548.4L223.6 542.1L221.6 524.1L219.1 522.0Z"/>
<path fill="#8e8e8e" d="M242.1 528.9L244.0 526.4L247.5 525.9L250.3 529.1L254.7 535.2L261.6 538.7L260.4 541.5L252.8 538.3L247.8 531.4L244.0 532.0L240.2 538.3L237.1 538.3Z"/>
<path fill="#474747" d="M238.3 544.6L241.5 543.0L247.8 544.3L252.2 548.4L250.3 550.9L242.7 550.3Z"/>
<path fill="#fff" d="M240.9 543.0L246.5 539.2L253.5 543.0L256.9 545.9L252.2 548.4L247.8 544.3Z"/>
<path fill="#8e8e8e" d="M223.2 523.9L225.7 522.6L226.6 535.2L230.2 540.9L228.9 543.0L224.9 539.6Z"/>
<path fill="#5a5a5a" d="M266.9 525.1L269.2 525.1L268.9 546.5L266.9 547.2Z"/>
<path fill="#707070" d="M314.9 571.4L322.0 571.4L322.9 596.1L330.8 602.3L337.8 598.8L342.3 594.4L348.4 588.2L352.0 587.0L357.6 589.6L357.6 595.4L352.3 598.2L347.0 603.9L338.7 615.0L329.4 621.5L318.5 624.3L307.0 622.1L294.3 616.2L293.1 605.8L295.2 600.7L300.8 600.4L307.9 598.4L314.0 595.3Z"/>
<path fill="#fff" d="M301.2 608.1L309.6 606.4L313.7 604.6L314.2 612.0L308.2 611.1Z"/>
<path fill="#fff" d="M324.4 605.8L330.8 608.8L335.7 606.4L330.8 611.6L324.8 613.4Z"/>
<path fill="#9c9c9c" d="M315.8 572.3L318.8 572.3L319.5 615.5L316.7 615.2Z"/>
<path fill="#999" d="M296.4 603.2L300.8 602.5L307.9 600.4L314.0 597.2L314.0 600.0L307.9 602.8L298.2 605.8Z"/>
<path fill="#9a9a9a" d="M330.8 604.1L337.8 600.5L348.4 590.0L351.1 591.2L341.4 601.4L332.6 607.1Z"/>
<path fill="#606060" d="M294.3 616.2L307.0 622.1L318.5 624.3L329.4 621.5L338.7 615.0L336.4 612.7L328.1 617.6L318.5 620.5L307.5 618.2L295.2 612.9Z"/>
</g>

<!-- 32_frame13.svg -->
<g id="frame13" filter="url(#soft)">
<path fill="#505050" d="M216.4 926.4L227.9 916.7L236.7 907.9L250.8 903.5L261.4 896.4L264.9 885.9L267.0 887.6L265.3 899.1L254.3 907.9L240.2 913.2L227.9 922.0L219.1 928.5Z"/>
<path fill="#5a5a5a" d="M222.6 887.6L238.5 885.5L243.7 891.2L257.8 896.4L250.8 902.1L236.7 905.3L236.7 894.7Z"/>
<path fill-rule="evenodd" fill="#979797" d="M204.9 880.6L211.1 881.5L222.6 887.6L236.7 894.7L237.7 900.0L233.2 907.0L222.6 915.5L217.3 919.7L215.5 925.0L208.5 928.5L204.6 931.7L206.7 935.6L205.8 939.8L199.7 940.9L195.3 936.3L196.1 931.0L201.1 929.1L197.9 921.5L191.2 917.6L186.4 916.5L182.9 918.0L171.4 925.0L161.8 928.2L157.3 925.7L159.1 922.2L175.0 914.1L182.9 905.3ZM195.3 905.3L210.2 892.9L221.2 899.1L215.9 907.9L213.1 917.6L207.1 916.9L204.9 914.1L197.9 912.3Z"/>
<path fill="#7a7a7a" d="M159.1 922.9L171.4 918.5L173.2 921.1L162.3 926.8L158.4 925.7Z"/>
<path fill="#6e6e6e" d="M196.5 931.7L204.1 932.1L206.4 935.6L205.5 939.5L200.0 940.5L195.8 936.3Z"/>
<path fill="#b0b0b0" d="M204.9 880.9L211.1 881.8L236.7 895.0L236.3 896.8L210.6 883.8L205.8 882.7Z"/>
<path fill="#777" d="M219.1 894.7L227.9 896.4L229.6 899.1L223.5 900.3Z"/>
<path fill="#8a8a8a" d="M172.0 822.9L187.9 834.4L188.4 844.1L182.6 858.2L173.8 867.9L164.1 868.4L163.2 870.5L157.9 877.9L151.4 872.6L156.2 865.6L165.9 863.8L174.7 852.9L176.8 840.6L171.2 830.0Z"/>
<path fill="#707070" d="M176.8 840.6L180.9 837.9L185.3 844.1L180.9 858.2L172.9 866.6L165.9 867.9L165.9 863.8L174.7 852.9Z"/>
<circle cx="155.8" cy="872.6" r="1.1" fill="#444"/>
<path fill="#666" fill-rule="evenodd" transform="translate(0.4,2)" d="M236.5 779.8L240.5 776.2L247.5 778.2L284.0 799.0L288.0 797.6L295.0 798.0L329.5 781.2L336.5 781.4L340.2 785.2L338.0 789.0L303.3 808.4L307.5 809.8L342.0 833.2L346.3 832.3L357.3 836.5L362.9 836.0L392.0 817.7L398.9 818.6L400.4 824.0L374.0 842.4L371.2 847.8L362.9 852.8L352.0 853.8L347.6 853.5L340.5 875.1L335.5 884.8L345.2 887.9L355.0 886.0L366.4 885.3L371.7 897.6L355.8 902.9L331.1 908.4L329.4 908.2L320.5 901.1L302.9 891.4L274.7 876.5L250.0 864.5L220.5 847.6L188.0 832.5L172.5 823.0L171.2 819.4L165.0 811.5L172.9 804.4L176.5 807.1L180.0 805.3L191.8 804.1L207.6 792.6L225.3 784.7ZM231.4 796.2L242.9 789.1L245.7 785.1L250.5 785.6L251.0 790.7L257.0 793.3L269.7 794.9L251.7 803.2L248.2 802.9ZM205.0 808.5L220.9 799.7L225.3 800.2L246.4 812.9L249.1 820.8L242.9 826.1L238.5 826.1L205.9 810.6ZM207.6 828.8L212.9 826.5L221.7 827.9L249.9 842.9L252.6 849.9L246.4 849.9L210.3 832.3ZM248.2 831.4L257.9 826.1L259.6 820.0L264.9 819.1L265.8 824.4L272.9 828.8L285.2 830.5L265.8 839.4L263.2 838.8ZM258.8 807.6L264.1 804.1L271.1 804.6L276.4 809.4L278.2 816.4L274.6 817.3L259.6 809.7ZM272.9 844.6L278.2 839.4L288.7 836.7L302.8 841.1L308.1 847.3L304.6 854.3L294.0 857.0L281.7 854.3L274.6 849.9ZM291.2 821.1L296.5 816.7L335.2 837.9L331.5 844.6L328.2 845.8ZM299.1 861.4L310.2 856.5L315.2 850.4L324.1 852.6L321.3 859.2L334.6 865.6L324.1 873.1L318.5 873.1ZM274.2 865.6L281.1 862.8L310.2 876.7L313.0 883.6L303.3 880.8Z"/>
<path fill="#878787" d="M188.0 832.5L220.5 847.6L250.0 864.5L274.7 876.5L302.9 891.4L320.5 901.1L329.4 908.2L327.6 911.2L308.2 901.6L283.5 888.4L282.6 895.8L278.2 908.2L271.2 908.2L267.6 901.1L266.0 886.0L264.4 900.8L230.0 882.8L229.5 867.0L226.5 874.5L221.0 877.5L216.5 873.5L214.5 865.0L215.2 856.4L190.6 838.8Z"/>
<path fill="#979797" d="M229.5 867L243 873.5L266 886L264.4 900.8L230 882.8Z"/>
<path fill="#a6a6a6" d="M188.0 832.5L220.5 847.6L250.0 864.5L274.7 876.5L302.9 891.4L320.5 901.1L329.4 908.2L328.8 911.8L319.9 904.7L302.3 895.0L274.1 880.1L249.4 868.1L219.9 851.2L187.4 836.1Z"/>
<path stroke="#6a6a6a" stroke-width="0.9" fill="none" d="M243 866V889M256 872.5V896"/>
<ellipse cx="221.6" cy="870.3" rx="2.4" ry="3.4" fill="#fff"/>
<ellipse cx="272.9" cy="902.7" rx="2.1" ry="3.1" fill="#fff"/>
<path fill="#8a8a8a" d="M304.7 902.9L317.9 907.3L315.2 915.2L306.4 925.8L301.1 933.8L295.0 936.8L290.2 932.5L297.6 927.6L302.9 917.0Z"/>
<path fill="#8b8b8b" fill-rule="evenodd" d="M236.5 779.8L240.5 776.2L247.5 778.2L284.0 799.0L288.0 797.6L295.0 798.0L329.5 781.2L336.5 781.4L340.2 785.2L338.0 789.0L303.3 808.4L307.5 809.8L342.0 833.2L346.3 832.3L357.3 836.5L362.9 836.0L392.0 817.7L398.9 818.6L400.4 824.0L374.0 842.4L371.2 847.8L362.9 852.8L352.0 853.8L347.6 853.5L340.5 875.1L335.5 884.8L345.2 887.9L355.0 886.0L366.4 885.3L371.7 897.6L355.8 902.9L331.1 908.4L329.4 908.2L320.5 901.1L302.9 891.4L274.7 876.5L250.0 864.5L220.5 847.6L188.0 832.5L172.5 823.0L171.2 819.4L165.0 811.5L172.9 804.4L176.5 807.1L180.0 805.3L191.8 804.1L207.6 792.6L225.3 784.7ZM231.4 796.2L242.9 789.1L245.7 785.1L250.5 785.6L251.0 790.7L257.0 793.3L269.7 794.9L251.7 803.2L248.2 802.9ZM205.0 808.5L220.9 799.7L225.3 800.2L246.4 812.9L249.1 820.8L242.9 826.1L238.5 826.1L205.9 810.6ZM207.6 828.8L212.9 826.5L221.7 827.9L249.9 842.9L252.6 849.9L246.4 849.9L210.3 832.3ZM248.2 831.4L257.9 826.1L259.6 820.0L264.9 819.1L265.8 824.4L272.9 828.8L285.2 830.5L265.8 839.4L263.2 838.8ZM258.8 807.6L264.1 804.1L271.1 804.6L276.4 809.4L278.2 816.4L274.6 817.3L259.6 809.7ZM272.9 844.6L278.2 839.4L288.7 836.7L302.8 841.1L308.1 847.3L304.6 854.3L294.0 857.0L281.7 854.3L274.6 849.9ZM291.2 821.1L296.5 816.7L335.2 837.9L331.5 844.6L328.2 845.8ZM299.1 861.4L310.2 856.5L315.2 850.4L324.1 852.6L321.3 859.2L334.6 865.6L324.1 873.1L318.5 873.1ZM274.2 865.6L281.1 862.8L310.2 876.7L313.0 883.6L303.3 880.8Z"/>
<path fill="#6c6c6c" d="M347.6 853.5L343 853L331 881L335.5 884.8L340.5 875.1Z"/>
<path fill="#7a7a7a" d="M302.9 892.3L320.5 883.5L332.9 884.4L345.2 892.3L330.2 898.5L320.5 901.1Z"/>
<path fill="#999" d="M302.9 892.3L320.5 883.5L322.6 884.7L306.1 894.1Z"/>
<ellipse cx="290.2" cy="806.4" rx="3.6" ry="2.3" fill="#fff"/>
<ellipse cx="263.2" cy="857" rx="3.8" ry="2.1" fill="#fff" transform="rotate(-15 263.2 857)"/>
<ellipse cx="360" cy="844.3" rx="4" ry="2.6" fill="#fff"/>
<ellipse cx="345.8" cy="839.8" rx="1.8" ry="1.2" fill="#fff"/>
<ellipse cx="186.2" cy="815" rx="3" ry="2" fill="#fff"/>
<ellipse cx="336.4" cy="897.3" rx="3.4" ry="2" fill="#fff"/>
<path fill="#fff" d="M357.5 890.5L363 888.5L365.5 893.5L360 896Z"/>
<path fill="none" stroke="#a6a6a6" stroke-width="1.2" d="M241 778L290 804M309 811L343 834.5M297 801L333 783M363 838L395 819.5"/>
<path fill="none" stroke="#a8a8a8" stroke-width="1.6" d="M253.5 807.6L259.6 801.4L267.6 799.7L277.3 801.4L284.3 808.5"/>
<path fill="none" stroke="#a4a4a4" stroke-width="1.4" d="M339 838.5Q350 833 362 838.5Q371 845 362 851Q352 853.5 341 846Z"/>
</g>

<!-- 33_right.svg -->
<g id="rightparts" filter="url(#softd)">
<path fill="#7c7c7c" d="M442.6 637.8L450.8 630.9L452.1 623.9L457.1 620.8L457.1 611.3L461.5 608.8L465.9 610.7L466.3 620.8L472.9 624.6L476.0 625.2L475.4 609.4L479.8 606.9L484.8 608.8L485.5 630.2L486.7 639.0L489.9 649.1L496.8 654.2L493.6 659.2L490.5 656.7L475.4 668.0L466.6 673.7L465.3 675.1L452.1 674.3L451.4 671.8L445.2 668.6L444.5 661.7L448.3 659.2L441.4 655.4L437.0 653.5L435.7 649.1L438.9 645.3L443.9 642.8Z"/>
<path fill="#858585" d="M450.8 625.2L454.0 621.2L461.5 619.9L469.1 621.2L472.9 625.2L470.6 631.5L461.5 633.8L452.7 631.0Z"/>
<path fill="#6a6a6a" d="M452.7 631.0L461.5 633.8L470.6 631.5L472.2 628.3L462.8 630.9L453.3 628.3Z"/>
<path fill="#9b9b9b" d="M458.0 612.0L460.9 610.3L462.8 611.1L462.8 623.3L458.4 623.3Z"/>
<path fill="#9d9d9d" d="M476.4 610.1L479.8 608.2L481.7 609.1L481.9 630.2L476.9 630.2Z"/>
<path fill="#5f5f5f" d="M464.7 611.3L465.9 611.1L466.3 623.9L464.7 624.6Z"/>
<path fill="#5f5f5f" d="M483.6 609.4L484.8 609.1L485.5 630.2L483.6 630.5Z"/>
<ellipse cx="461.5" cy="610.2" rx="4.5" ry="2.1" fill="#b5b5b5"/><ellipse cx="461.5" cy="610.4" rx="2.6" ry="1.1" fill="#777"/>
<ellipse cx="480" cy="608.3" rx="4.7" ry="2.1" fill="#b5b5b5"/><ellipse cx="480" cy="608.5" rx="2.7" ry="1.1" fill="#777"/>
<path fill="#9a9a9a" d="M451.4 625.2L454.2 621.7L458.0 620.7L458.0 623.9L462.8 624.7L466.6 623.7L469.1 621.7L472.4 625.2L462.8 629.2L453.3 628.0Z"/>
<path fill="#4e4e4e" d="M457.1 654.2L462.8 650.4L485.5 639.0L489.9 649.1L490.5 656.7L475.4 668.0L466.6 673.7L458.0 670.8L456.5 660.5Z"/>
<path fill="#666" d="M457.1 654.2L462.8 650.4L485.5 639.0L486.5 640.9L464.0 652.6L458.4 656.4Z"/>
<path fill="#8b8b8b" d="M435.7 649.1L438.9 645.3L445.2 642.8L450.2 644.1L451.4 649.4L445.2 652.9L441.4 655.4L437.0 653.5Z"/>
<path fill="#a2a2a2" d="M437.6 647.2L439.9 645.6L445.8 643.6L448.9 644.3L441.4 648.5Z"/>
<path fill="#606060" d="M437.0 649.4L439.5 648.1L441.1 652.3L438.6 653.5Z"/>
<path fill="#6c6c6c" d="M444.5 661.7L450.2 659.2L455.2 660.5L456.5 670.5L450.2 670.8L445.2 668.6Z"/>
<path fill="#8d8d8d" d="M490.5 651.0L496.2 654.4L493.6 658.6L490.7 656.4Z"/>
<path fill="#8a8a8a" d="M500.7 704.3L507.0 690.5L514.9 682.7L527.8 679.9L541.0 681.9L551.1 689.2L545.4 693.5L537.9 689.2L530.1 687.5L521.2 689.2L514.9 695.5L510.8 704.1L513.9 707.9L520.2 711.4L521.7 714.4L517.1 717.4L505.7 711.1Z"/>
<path fill="#707070" d="M501.3 704.1L506.4 710.6L517.1 716.9L518.3 714.8L507.6 708.5L503.9 703.5Z"/>
<path fill="#606060" d="M541.6 639.1L545.4 635.7L549.2 637.6L549.2 647.7L556.1 657.7L556.8 690.5L553.0 693.6L551.3 690.5L551.1 662.8L541.6 650.2Z"/>
<path fill="#7a7a7a" d="M549.2 647.7L556.1 657.7L556.8 690.5L554.5 691.8L554.0 658.8L547.7 649.6Z"/>
<path fill="#626262" d="M525.3 648.9L528.4 645.8L532.2 647.7L532.2 654.6L540.4 667.2L539.7 671.9L534.1 675.1L531.6 680.4L526.5 677.9L527.8 675.4L534.1 668.5L525.9 657.7Z"/>
<path fill="#777" d="M532.2 654.6L540.4 667.2L539.7 671.9L536.6 673.5L537.2 667.8L530.1 657.1Z"/>
<path fill="#585858" d="M529.7 672.6L536.9 674.1L526.8 701.6L523.8 710.6L518.3 709.7L522.5 697.8Z"/>
<path fill="#545454" d="M518.3 708.5L553.0 688.3L556.8 692.1L521.5 714.4Z"/>
<path fill="#6b6b6b" d="M518.3 708.5L553.0 688.3L554.0 689.7L519.7 710.1Z"/>
<ellipse cx="529" cy="649.5" rx="1.5" ry="2.3" fill="#fff" transform="rotate(25 529 649.5)"/>
<ellipse cx="545.5" cy="639.5" rx="1.5" ry="2.3" fill="#fff" transform="rotate(25 545.5 639.5)"/>
<circle cx="531.7" cy="676.2" r="1.6" fill="#999"/><circle cx="553.8" cy="690" r="1.6" fill="#999"/><circle cx="520.3" cy="709.5" r="1.7" fill="#999"/>
<path fill="#747474" d="M515.7 479.6L518.9 475.2L531.5 466.1L537.8 466.6L541.3 471.1L542.8 471.4L554.2 468.9L560.5 471.4L568.0 478.9L552.9 491.5L549.7 497.8L552.9 509.2L547.9 513.2L537.8 511.9L534.0 505.4L525.2 509.4L518.9 511.2L513.9 508.5L512.6 503.5L516.4 499.7L521.4 496.6L519.5 491.5L523.3 485.9L518.9 485.2Z"/>
<path fill="#8e8e8e" d="M515.7 479.6L518.9 475.2L531.5 466.1L537.8 466.6L541.3 471.1L539.3 475.8L525.8 485.2L518.9 485.2Z"/>
<path fill="#b4b4b4" d="M518.9 476.7L521.2 475.2L532.5 467.3L535.9 467.6L524.6 478.3L520.8 480.2Z"/>
<path fill="#686868" d="M518.9 485.2L525.8 485.2L539.3 475.8L538.4 473.9L525.2 483.0L519.5 483.3Z"/>
<ellipse cx="517.6" cy="480.4" rx="2.4" ry="4.4" fill="#7a7a7a" stroke="#5c5c5c" stroke-width="0.6" transform="rotate(35 517.6 480.4)"/>
<path fill="#5e5e5e" d="M531.7 482.1L540.6 475.8L544.1 480.2L541.8 485.2L534.3 488.0Z"/>
<path fill="#7e7e7e" d="M531.5 467.6L537.8 467.3L541.1 471.4L539.0 473.9L535.3 471.4Z"/>
<path fill="#8c8c8c" d="M542.8 472.0L554.2 469.5L560.5 472.0L566.8 478.9L552.9 490.9L547.9 486.5L544.1 480.2Z"/>
<path fill="#7a7a7a" d="M534.3 488.0L541.8 485.2L547.9 486.5L552.9 490.9L549.7 497.8L552.9 509.2L547.9 512.9L537.8 511.7L534.0 505.4Z"/>
<path fill="#8c8c8c" d="M512.6 503.5L516.4 499.7L525.2 495.3L531.5 497.8L534.0 505.4L525.2 509.4L518.9 511.2L513.9 508.5Z"/>
<path fill="#b0b0b0" d="M514.9 502.9L517.1 500.8L525.2 496.6L529.2 498.3L518.9 505.1Z"/>
<path fill="#626262" d="M513.9 508.5L518.9 511.2L525.2 509.4L534.0 505.4L533.0 503.1L525.2 506.9L518.9 508.9L514.6 506.6Z"/>
<ellipse cx="514.1" cy="505.9" rx="2.4" ry="4.6" fill="#828282" stroke="#5c5c5c" stroke-width="0.6" transform="rotate(25 514.1 505.9)"/>
<path fill="#454545" d="M549.7 491.5L568.0 477.0L570.5 468.9L574.3 465.7L580.6 467.6L583.8 472.6L583.1 487.7L574.3 499.1L556.7 509.8L551.6 507.9L549.7 497.8Z"/>
<path fill="#686868" d="M569.0 469.1L572.0 466.3L580.1 468.1L582.5 472.6L578.1 475.2Z"/>
<path fill="#3a3a3a" d="M574.3 467.6L577.1 467.1L577.8 473.9L575.3 474.6Z"/>
<path fill="#7c7c7c" d="M553.5 493.4L567.4 482.1L568.3 483.7L554.4 495.1Z"/>
<path fill="#5a5a5a" d="M549.7 491.5L568.0 477.0L569.0 478.7L551.0 493.0Z"/>
<path fill="#7a7a7a" d="M568.6 501.6L574.3 501.0L575.6 504.7L571.8 507.3L568.0 505.4Z"/>
<path fill="#474747" d="M580.6 519.2L584.7 513.5L597.0 502.8L614.2 491.4L627.3 484.8L632.2 486.5L633.0 492.2L624.0 502.8L619.1 510.2L617.5 517.6L614.2 527.4L609.3 529.8L606.8 524.1L606.0 515.1L599.5 515.9L586.4 523.3L582.3 523.3Z"/>
<path fill="#6d6d6d" d="M584.7 513.5L597.0 502.8L614.2 491.4L627.3 484.8L628.3 486.5L615.0 493.3L598.2 504.8L586.4 515.1Z"/>
<circle cx="584.7" cy="518.9" r="1.5" fill="#8a8a8a"/>
<circle cx="599.5" cy="507.4" r="1.5" fill="#8a8a8a"/>
<circle cx="617.5" cy="493.3" r="1.5" fill="#8a8a8a"/>
<circle cx="629.3" cy="490.1" r="1.5" fill="#8a8a8a"/>
<circle cx="617.5" cy="508.6" r="1.5" fill="#8a8a8a"/>
<circle cx="610.9" cy="524.9" r="1.5" fill="#8a8a8a"/>
<path fill-rule="evenodd" fill="#4d4d4d" d="M622.4 527.4L626.5 523.6L648.6 524.1L656.8 520.5L667.4 512.7L666.6 507.7L671.5 504.5L683.0 506.1L687.1 511.0L687.6 520.8L683.0 527.4L676.4 540.5L668.2 544.6L658.4 542.9L645.3 540.5L644.5 533.1L638.8 530.7L625.7 529.8ZM658.4 535.6L666.6 524.1L674.8 520.0L677.2 521.7L673.1 530.7L668.2 533.1L663.3 538.0Z"/>
<path fill="#6f6f6f" d="M623.2 527.1L626.5 524.1L648.6 524.6L656.8 521.2L667.4 513.3L668.2 515.1L657.6 523.3L648.9 526.7L626.5 527.7Z"/>
<path fill="#686868" d="M666.9 508.1L671.5 505.1L682.6 506.8L686.2 511.3L674.8 513.5L668.2 512.3Z"/>
<circle cx="651.9" cy="535.9" r="3.4" fill="#8e8e8e"/>
<circle cx="651.9" cy="535.9" r="1.5" fill="#666"/>
<circle cx="669.1" cy="538.0" r="3.4" fill="#8e8e8e"/>
<circle cx="669.1" cy="538.0" r="1.5" fill="#666"/>
<circle cx="682.1" cy="519.2" r="3.4" fill="#8e8e8e"/>
<circle cx="682.1" cy="519.2" r="1.5" fill="#666"/>
<circle cx="671.8" cy="506.4" r="1.4" fill="#ddd"/>
</g>

<!-- 40_leaders.svg -->
<g id="leaders">
<!-- solid leaders -->
<path class="lg" d="M143.5 534.5V551"/>
<path class="ld" d="M229 601.5V620"/>
<path class="ld" d="M244.6 475.5V526"/>
<path class="lg" style="stroke:#9a9a9a;stroke-width:1.1" d="M287 500V551"/>
<path class="ld" d="M318.4 521V579"/>
<path class="lg" d="M262.7 636V650"/>
<path class="ld" d="M143 645V683.5"/>
<path class="ld" d="M240 743V778"/>
<path class="lg" d="M473.7 670V719"/>
<path class="ld" d="M533.6 707V757"/>
<path class="ld" d="M564 417V469"/>
<path class="lg" d="M622.6 432V487"/>
<path class="ld" d="M663.3 546.5V596"/>
<!-- dash-dot leaders -->
<path class="dd" d="M122.8 499.5V546"/>
<path class="dg" d="M208.8 522V540"/>
<path class="dd" d="M199.5 602V612"/>
<path class="dd" d="M112.8 657V697"/>
<path class="dd" d="M186.5 719.5V729M186.5 755.5V762"/>
<path class="dg" d="M187 788.5V812"/>
<path class="dd" d="M312 636H292L278 649"/>
<path class="dd" d="M377 606H361.5V629"/>
<path class="dd" d="M356.6 644V704"/>
<path class="dd" d="M303 691V708"/>
<path class="dd" d="M410.2 648L441.6 662.6"/>
<path class="dg" d="M530 632L541 637"/>
<path class="dd" d="M486.3 472L518 484.6"/>
<path class="dg" d="M530.2 413.5V453"/>
<path class="dg" d="M672 466V504"/>
</g>

<rect class="y" x="126.5" y="502.5" width="37" height="32"/>
<text class="b" transform="translate(143.0,527.1) scale(0.9,1)">10</text>
<rect class="y" x="216.0" y="568.5" width="25" height="33"/>
<text class="b" transform="translate(228.5,593.6) scale(0.9,1)">6</text>
<rect class="y" x="224.4" y="442.8" width="38.5" height="32.5"/>
<text class="b" transform="translate(243.7,467.6) scale(0.9,1)">17</text>
<rect class="y" x="268.4" y="468.4" width="38" height="31.5"/>
<text class="b" transform="translate(287.4,492.8) scale(0.9,1)">17</text>
<rect class="y" x="300.0" y="489.8" width="38" height="31"/>
<text class="b" transform="translate(319.0,513.9) scale(0.9,1)">17</text>
<rect class="y" x="243.0" y="604.0" width="35" height="32"/>
<text class="b" transform="translate(260.5,628.6) scale(0.9,1)">11</text>
<rect class="y" x="131.2" y="683.5" width="27" height="31"/>
<text class="b" transform="translate(144.7,707.6) scale(0.9,1)">5</text>
<rect class="y" x="220.3" y="710.5" width="38.5" height="32.5"/>
<text class="b" transform="translate(239.6,735.4) scale(0.9,1)">13</text>
<rect class="y" x="520.5" y="762.1" width="27.5" height="33"/>
<text class="b" transform="translate(534.2,787.2) scale(0.9,1)">2</text>
<rect class="y" x="550.9" y="384.6" width="27" height="32"/>
<text class="b" transform="translate(564.4,409.2) scale(0.9,1)">7</text>
<rect class="y" x="609.5" y="399.1" width="27" height="32.5"/>
<text class="b" transform="translate(623.0,424.0) scale(0.9,1)">8</text>
<rect class="y" x="650.0" y="596.3" width="26.5" height="33"/>
<text class="b" transform="translate(663.3,621.4) scale(0.9,1)">9</text>
<rect class="y" x="105.8" y="470.5" width="34" height="30"/>
<rect class="k" x="109.6" y="472.8" width="26.4" height="26.4"/>
<text class="r" transform="translate(122.8,493.0) scale(0.96,1)">12</text>
<rect class="y" x="191.4" y="539.3" width="34" height="30"/>
<rect class="k" x="195.2" y="541.6" width="26.4" height="26.4"/>
<text class="r" transform="translate(208.4,561.8) scale(0.96,1)">14</text>
<rect class="y" x="182.3" y="572.5" width="34" height="30"/>
<rect class="k" x="186.1" y="574.8" width="26.4" height="26.4"/>
<text class="r" transform="translate(199.3,595.0) scale(0.96,1)">12</text>
<rect class="y" x="94.5" y="695.5" width="34" height="30"/>
<rect class="k" x="98.3" y="697.8" width="26.4" height="26.4"/>
<text class="r" transform="translate(111.5,718.0) scale(0.96,1)">12</text>
<rect class="y" x="169.0" y="690.5" width="34" height="30"/>
<rect class="k" x="172.8" y="692.8" width="26.4" height="26.4"/>
<text class="r" transform="translate(186.0,713.0) scale(0.96,1)">19</text>
<rect class="y" x="169.0" y="726.7" width="34" height="30"/>
<rect class="k" x="172.8" y="729.0" width="26.4" height="26.4"/>
<text class="r" transform="translate(186.0,749.2) scale(0.96,1)">15</text>
<rect class="y" x="169.0" y="759.5" width="34" height="30"/>
<rect class="k" x="172.8" y="761.8" width="26.4" height="26.4"/>
<text class="r" transform="translate(186.0,782.0) scale(0.96,1)">16</text>
<rect class="y" x="308.6" y="629.5" width="34" height="30"/>
<rect class="k" x="312.4" y="631.8" width="26.4" height="26.4"/>
<text class="r" transform="translate(325.6,652.0) scale(0.96,1)">18</text>
<rect class="y" x="373.5" y="594.5" width="34" height="30"/>
<rect class="k" x="377.3" y="596.8" width="26.4" height="26.4"/>
<text class="r" transform="translate(390.5,617.0) scale(0.96,1)">21</text>
<rect class="y" x="379.8" y="631.2" width="34" height="30"/>
<rect class="k" x="383.6" y="633.5" width="26.4" height="26.4"/>
<text class="r" transform="translate(396.8,653.7) scale(0.96,1)">3</text>
<rect class="y" x="337.6" y="701.9" width="34" height="30"/>
<rect class="k" x="341.4" y="704.2" width="26.4" height="26.4"/>
<text class="r" transform="translate(354.6,724.4) scale(0.96,1)">22</text>
<rect class="y" x="286.0" y="706.2" width="34" height="30"/>
<rect class="k" x="289.8" y="708.5" width="26.4" height="26.4"/>
<text class="r" transform="translate(303.0,728.7) scale(0.96,1)">12</text>
<rect class="y" x="499.5" y="611.5" width="34" height="30"/>
<rect class="k" x="503.3" y="613.8" width="26.4" height="26.4"/>
<text class="r" transform="translate(516.5,634.0) scale(0.96,1)">4</text>
<rect class="y" x="455.9" y="453.5" width="34" height="30"/>
<rect class="k" x="459.7" y="455.8" width="26.4" height="26.4"/>
<text class="r" transform="translate(472.9,476.0) scale(0.96,1)">3</text>
<rect class="y" x="512.8" y="384.5" width="34" height="30"/>
<rect class="k" x="516.6" y="386.8" width="26.4" height="26.4"/>
<text class="r" transform="translate(529.8,407.0) scale(0.96,1)">20</text>
<rect class="y" x="654.2" y="436.0" width="34" height="30"/>
<rect class="k" x="658.0" y="438.3" width="26.4" height="26.4"/>
<text class="r" transform="translate(671.2,458.5) scale(0.96,1)">23</text>
<rect x="461.7" y="724.2" width="23.4" height="34" fill="#f8d978" stroke="#ecc452" stroke-width="1.6"/>
<text class="b" transform="translate(473.4,750.2) scale(0.9,1)" style="fill:#2a1c00">1</text>
<!-- 60_table.svg -->
<g id="table">
<rect class="y" x="91.6" y="1126.3" width="35" height="29"/>
<rect class="y" x="177.0" y="1126.3" width="35" height="29"/>
<rect class="y" x="262.3" y="1126.3" width="35" height="29"/>
<rect class="y" x="347.2" y="1126.3" width="35" height="29"/>
<rect class="y" x="433.2" y="1126.3" width="35" height="29"/>
<rect class="y" x="518.8" y="1126.3" width="35" height="29"/>
<rect class="y" x="604.2" y="1126.3" width="23" height="29"/>
<rect class="y" x="689.6" y="1126.3" width="23" height="29"/>
<rect class="y" x="518.8" y="1069.3" width="35" height="29"/>
<rect class="y" x="604.2" y="1069.3" width="35" height="29"/>
<rect class="y" x="689.6" y="1069.3" width="35" height="29"/>
<g fill="none" stroke="#111" stroke-width="1.5">
<path d="M95.6 1129.3H779M95.6 1186.3H779M522.8 1072.3H779"/>
<path d="M95.6 1129.3V1186.3M181 1129.3V1186.3M266.3 1129.3V1186.3M351.2 1129.3V1186.3M437.2 1129.3V1186.3M522.8 1072.3V1186.3M608.2 1072.3V1186.3M693.6 1072.3V1186.3M779 1072.3V1186.3"/>
</g>
<text class="t" transform="translate(98.2,1148.7) scale(1.01,1)">20</text>
<text class="t" transform="translate(183.6,1148.7) scale(1.01,1)">19</text>
<text class="t" transform="translate(268.9,1148.7) scale(1.01,1)">18</text>
<text class="t" transform="translate(353.8,1148.7) scale(1.01,1)">16</text>
<text class="t" transform="translate(439.8,1148.7) scale(1.01,1)">15</text>
<text class="t" transform="translate(525.4,1148.7) scale(1.01,1)">14</text>
<text class="t" transform="translate(610.8,1148.7) scale(1.01,1)">4</text>
<text class="t" transform="translate(696.2,1148.7) scale(1.01,1)">3</text>
<text class="t" transform="translate(525.4,1091.7) scale(1.01,1)">23</text>
<text class="t" transform="translate(610.8,1091.7) scale(1.01,1)">22</text>
<text class="t" transform="translate(696.2,1091.7) scale(1.01,1)">21</text>
<defs><linearGradient id="m1" x1="0" y1="0" x2="1" y2="1"><stop offset="0" stop-color="#c4c4c4"/><stop offset="0.5" stop-color="#a2a2a2"/><stop offset="1" stop-color="#7e7e7e"/></linearGradient><linearGradient id="m2" x1="0" y1="0" x2="1" y2="0"><stop offset="0" stop-color="#8a8a8a"/><stop offset="0.35" stop-color="#b8b8b8"/><stop offset="1" stop-color="#808080"/></linearGradient><linearGradient id="m3" x1="0" y1="0" x2="0" y2="1"><stop offset="0" stop-color="#b5b5b5"/><stop offset="1" stop-color="#838383"/></linearGradient><linearGradient id="m4" x1="0" y1="0" x2="1" y2="1"><stop offset="0" stop-color="#9a9a9a"/><stop offset="1" stop-color="#6a6a6a"/></linearGradient></defs>
<g filter="url(#soft)">
<path fill="#9c9c9c" d="M154.4 1134.0L167.5 1141.1L164.5 1145.1L165.5 1156.2L160.5 1168.3L152.4 1176.4L142.3 1178.9L136.3 1176.4L135.3 1168.3L138.3 1168.8L144.3 1167.3L150.4 1161.2L152.4 1151.2L151.4 1141.1Z"/>
<path fill="#b9b9b9" d="M154.9 1135.6L166.0 1141.6L163.3 1144.6L156.4 1141.1Z"/>
<path fill="#7c7c7c" d="M164.5 1145.1L165.5 1156.2L160.5 1168.3L152.4 1176.4L142.3 1178.9L141.8 1177.4L151.4 1174.5L158.9 1166.8L163.7 1155.7L163.0 1146.1Z"/>
<path fill="#b4b4b4" d="M135.3 1132.0L148.4 1138.1L147.4 1141.1L140.3 1151.2L136.3 1161.2L135.3 1168.3L138.3 1175.4L133.2 1178.4L127.2 1170.3L124.2 1161.2L124.7 1152.2L129.2 1142.1L134.3 1136.1Z"/>
<path fill="#8f8f8f" d="M147.4 1141.1L140.3 1151.2L136.3 1161.2L135.3 1168.3L138.3 1175.4L136.8 1176.4L133.8 1168.3L134.8 1160.2L138.8 1150.7L145.8 1140.3Z"/>
<path stroke="#8a8a8a" stroke-width="0.7" fill="none" d="M142.3 1139.1L134.3 1151.2L131.2 1161.2"/>
<ellipse cx="119.6" cy="1168.8" rx="10" ry="15.6" fill="#8a8a8a" transform="rotate(-32 119.6 1168.8)"/>
<ellipse cx="118.6" cy="1168" rx="9.6" ry="15.2" fill="#b2b2b2" transform="rotate(-32 118.6 1168)"/>
<path fill="#9a9a9a" d="M111.1 1170.8L123.2 1165.5L126.4 1167.8L125.2 1170.3L115.1 1175.4L111.6 1174.3Z"/>
<path fill="#c2c2c2" d="M111.9 1171.1L123.0 1166.3L124.2 1167.5L112.9 1172.5Z"/>
<path stroke="#8f8f8f" stroke-width="12.5" stroke-linecap="butt" d="M231 1154.5L254 1141"/>
<path stroke="#adadad" stroke-width="3.2" stroke-linecap="butt" d="M229.5 1151L252.5 1137.5"/>
<path stroke="#8a8a8a" stroke-width="8.5" stroke-linecap="round" d="M253 1141.2L258.5 1138"/>
<ellipse cx="224.2" cy="1165" rx="18" ry="19.5" fill="url(#m1)" transform="rotate(35 224.2 1165)"/>
<ellipse cx="223.2" cy="1164.5" rx="16.5" ry="18" fill="#a6a6a6" transform="rotate(35 223.2 1164.5)"/>
<path fill="#979797" stroke="#8a8a8a" stroke-width="0.8" d="M213 1160L221 1155L231 1160L232 1170L224 1176L214 1171Z"/>
<circle cx="220.5" cy="1159.5" r="1" fill="#ddd"/>
<path fill="url(#m2)" d="M296.0 1139.0L296.5 1156.0L315.3 1158.3L315.5 1139.7L313.0 1136.1L299.4 1135.6Z"/>
<ellipse cx="305.7" cy="1138.3" rx="9.6" ry="3.8" fill="#b2b2b2"/><ellipse cx="305.7" cy="1138.5" rx="4.5" ry="1.9" fill="#777"/>
<path fill="#999" d="M290.3 1156.0L298.3 1151.0L319.8 1154.2L321.4 1163.9L313.0 1170.7L292.6 1166.2Z"/>
<path fill="#7e7e7e" d="M292.6 1166.2L313.0 1170.7L321.4 1163.9L320.9 1159.4L313.0 1165.5L291.5 1161.0Z"/>
<path fill="url(#m2)" d="M302.4 1170.1L310.1 1170.7L309.6 1181.4L306.2 1183.2L302.8 1180.9Z"/>
<ellipse cx="394.6" cy="1166" rx="24.5" ry="12" fill="#8d8d8d"/>
<ellipse cx="394.6" cy="1164.6" rx="24.5" ry="11.6" fill="#a6a6a6"/>
<path fill="url(#m2)" d="M383 1144V1164.5Q394.6 1171 406.8 1164.5V1144Z"/>
<ellipse cx="394.9" cy="1144" rx="11.9" ry="4.8" fill="#b0b0b0"/><ellipse cx="394.9" cy="1144.4" rx="8.2" ry="3.1" fill="#7d7d7d"/>
<g transform="rotate(-38 488 1159)">
<ellipse cx="493" cy="1159" rx="12" ry="27" fill="#868686"/>
<rect x="487" y="1132" width="6" height="54" fill="#8c8c8c"/>
<ellipse cx="487" cy="1159" rx="12" ry="27" fill="#aaaaaa"/>
<ellipse cx="482.5" cy="1161" rx="8" ry="15" fill="#8a8a8a"/>
<ellipse cx="480" cy="1161.5" rx="7.5" ry="14" fill="#a5a5a5"/>
<ellipse cx="479.3" cy="1161.8" rx="4.3" ry="8" fill="#7a7a7a"/>
</g>
<path fill="url(#m2)" d="M549.8 1149V1171Q549.8 1183.5 574.8 1183.5Q599.8 1183.5 599.8 1171V1149Z"/>
<path fill="none" stroke="#7a7a7a" stroke-width="1.6" d="M549.8 1164Q552 1175.5 574.8 1175.5Q597.6 1175.5 599.8 1164"/>
<ellipse cx="574.8" cy="1149" rx="25" ry="12.3" fill="#a9a9a9"/>
<ellipse cx="574.8" cy="1148.6" rx="12.4" ry="6.2" fill="#7c7c7c"/><ellipse cx="576" cy="1150.2" rx="9.5" ry="4.2" fill="#949494"/>
<path stroke="#8b8b8b" stroke-width="13.6" d="M660 1151.5L687 1138.5"/>
<path stroke="#bcbcbc" stroke-width="5" d="M658.5 1148L685.5 1135"/>
<ellipse cx="687.5" cy="1138.5" rx="2.8" ry="6.8" fill="#888" transform="rotate(-25 687.5 1138.5)"/>
<ellipse cx="650.5" cy="1163.5" rx="17" ry="20.5" fill="#858585" transform="rotate(20 650.5 1163.5)"/>
<ellipse cx="647.8" cy="1162.8" rx="17" ry="20" fill="url(#m1)" transform="rotate(20 647.8 1162.8)"/>
<circle cx="641.5" cy="1167" r="5" fill="#a0a0a0" stroke="#8a8a8a" stroke-width="0.8"/><path d="M639 1166l2.5-2.5 2.5 2.5-1.5 3.2h-2z" fill="#8a8a8a"/>
<path stroke="#868686" stroke-width="10" d="M735 1161.5L764 1138.8"/>
<path stroke="#b0b0b0" stroke-width="3.6" d="M733.4 1159L762.4 1136.3"/>
<ellipse cx="765" cy="1138" rx="2.3" ry="5" fill="#808080" transform="rotate(-38 765 1138)"/>
<ellipse cx="727.5" cy="1169" rx="12.5" ry="15" fill="#828282" transform="rotate(25 727.5 1169)"/>
<ellipse cx="725.4" cy="1168.4" rx="12.6" ry="14.6" fill="url(#m1)" transform="rotate(25 725.4 1168.4)"/>
<ellipse cx="721" cy="1171" rx="4.2" ry="4.8" fill="#9b9b9b" stroke="#868686" stroke-width="0.8"/><ellipse cx="721" cy="1171" rx="1.8" ry="2.3" fill="#858585"/>
<ellipse cx="576.5" cy="1101.5" rx="12" ry="21.5" fill="#6f6f6f" transform="rotate(-22 576.5 1101.5)"/>
<ellipse cx="574.3" cy="1101" rx="12" ry="21.3" fill="#7c7c7c" transform="rotate(-22 574.3 1101)"/>
<ellipse cx="570.5" cy="1099.8" rx="7.2" ry="12" fill="#606060" transform="rotate(-22 570.5 1099.8)"/>
<ellipse cx="568.8" cy="1099.5" rx="5" ry="8.5" fill="#767676" transform="rotate(-22 568.8 1099.5)"/>
<path stroke="#6c6c6c" stroke-width="0.9" d="M566 1093l5 5M565 1101h7M567 1107l5-3"/>
<path fill="#727272" d="M641.7 1107.8L653.2 1083.1L656.3 1078.1L664.3 1076.6L667.4 1079.1L669.4 1077.1L676.4 1075.3L679.6 1083.1L677.6 1091.2L672.4 1093.4L680.5 1099.2L679.4 1102.5L670.4 1101.5L665.3 1106.3L667.4 1115.4L678.4 1118.4L676.4 1121.9L667.4 1122.9L660.3 1120.4L654.3 1119.4L645.2 1123.6L635.1 1123.6L629.6 1120.4L630.1 1116.4L638.1 1112.3Z"/>
<path fill="#868686" d="M630.1 1116.4L638.1 1112.3L646.2 1111.3L653.2 1115.4L654.3 1119.4L645.2 1123.6L635.1 1123.6L629.6 1120.4Z"/>
<path fill="#a0a0a0" d="M631.1 1116.6L638.6 1113.1L646.0 1112.3L652.0 1115.6L645.2 1118.9L635.1 1119.4Z"/>
<ellipse cx="637.8" cy="1116.3" rx="2.6" ry="1.2" fill="#666"/>
<path fill="#686868" d="M653.2 1105.3L657.3 1101.2L662.3 1101.2L665.3 1106.3L667.4 1115.4L678.4 1118.4L676.4 1121.9L667.4 1122.9L660.3 1120.4L654.3 1115.4L652.2 1110.3Z"/>
<path fill="#545454" d="M654.8 1106.3L658.3 1102.8L661.8 1102.8L663.8 1107.3L665.3 1115.4L663.3 1118.4L658.3 1115.4L654.8 1111.3Z"/>
<path fill="#5a5a5a" d="M653.2 1083.1L655.5 1083.9L644.2 1108.3L641.7 1107.8Z"/>
<path fill="#9b9b9b" d="M655.3 1084.1L660.3 1083.1L662.3 1086.1L652.2 1108.3L646.2 1110.5L644.2 1108.3Z"/>
<path fill="#6a6a6a" d="M656.3 1078.1L664.3 1076.6L667.4 1079.1L668.4 1090.2L664.3 1092.2L660.3 1085.1L656.3 1083.1Z"/>
<path fill="#5c5c5c" d="M669.4 1077.1L676.4 1075.3L679.6 1083.1L677.6 1091.2L672.4 1093.4L670.4 1090.4L674.4 1087.1L674.9 1080.3L670.4 1080.3Z"/>
<path fill="#8a8a8a" d="M671.9 1079.6L674.4 1079.3L674.9 1086.1L672.9 1087.6Z"/>
<path fill="#7a7a7a" d="M664.3 1093.2L670.4 1095.2L680.5 1099.2L679.4 1102.5L670.4 1101.5L664.3 1098.2Z"/>
<path fill="#757575" d="M736.2 1104.3L745.3 1098.2L749.3 1102.3L755.4 1103.3L753.4 1107.3L759.4 1116.4L757.4 1121.4L752.4 1126.6L747.3 1125.6L735.2 1116.6L734.2 1112.3Z"/>
<path fill="#8e8e8e" d="M737.2 1106.3L744.3 1101.2L747.3 1104.3L745.3 1110.3L749.3 1120.4L747.3 1124.4L736.2 1115.9L735.2 1112.3Z"/>
<path fill="#5e5e5e" d="M745.3 1110.3L749.3 1108.3L757.4 1118.4L752.4 1125.9L749.3 1120.4Z"/>
<path fill="#707070" d="M730.2 1081.1L738.2 1082.1L743.3 1077.1L752.4 1074.5L754.4 1076.6L752.4 1081.1L757.4 1079.1L761.4 1078.1L763.9 1082.1L763.9 1090.2L760.4 1094.2L753.4 1096.2L757.4 1099.2L755.4 1103.3L749.3 1102.3L745.3 1098.2L738.2 1101.2L732.2 1103.3L734.2 1093.2L732.2 1086.1Z"/>
<path fill="#8a8a8a" d="M735.2 1084.1L739.3 1083.1L743.3 1078.1L751.3 1075.6L750.3 1080.1L745.3 1083.1L744.3 1093.2L739.3 1098.2L736.2 1093.2Z"/>
<path fill="#5a5a5a" d="M745.3 1083.1L750.3 1080.1L752.4 1081.6L751.3 1094.2L747.3 1097.2L744.8 1093.2Z"/>
<path fill="#868686" d="M753.4 1082.1L757.4 1079.9L760.9 1078.9L762.9 1082.6L762.9 1089.7L759.9 1093.2L754.4 1095.0L753.2 1088.2Z"/>
<path fill="#9c9c9c" d="M722.1 1088.2L724.1 1083.1L730.2 1081.1L734.2 1083.1L732.2 1088.2L734.2 1098.2L731.4 1104.0L726.2 1101.5L723.1 1095.2Z"/>
<path fill="#7a7a7a" d="M722.1 1088.2L723.1 1095.2L726.2 1101.5L731.4 1104.0L732.2 1102.3L727.7 1100.0L724.9 1094.7L724.1 1088.2Z"/>
<path fill="#fff" d="M732.0 1089.7L733.7 1091.7L734.4 1096.7L733.0 1095.7Z"/>
<path fill="#666" d="M752.4 1101.2L757.4 1098.2L758.4 1100.2L753.9 1103.5Z"/>
<path fill="#666" d="M755.4 1107.5L761.4 1104.3L761.9 1106.3L756.6 1109.5Z"/>
</g>
</g>

</svg>
</body></html>
